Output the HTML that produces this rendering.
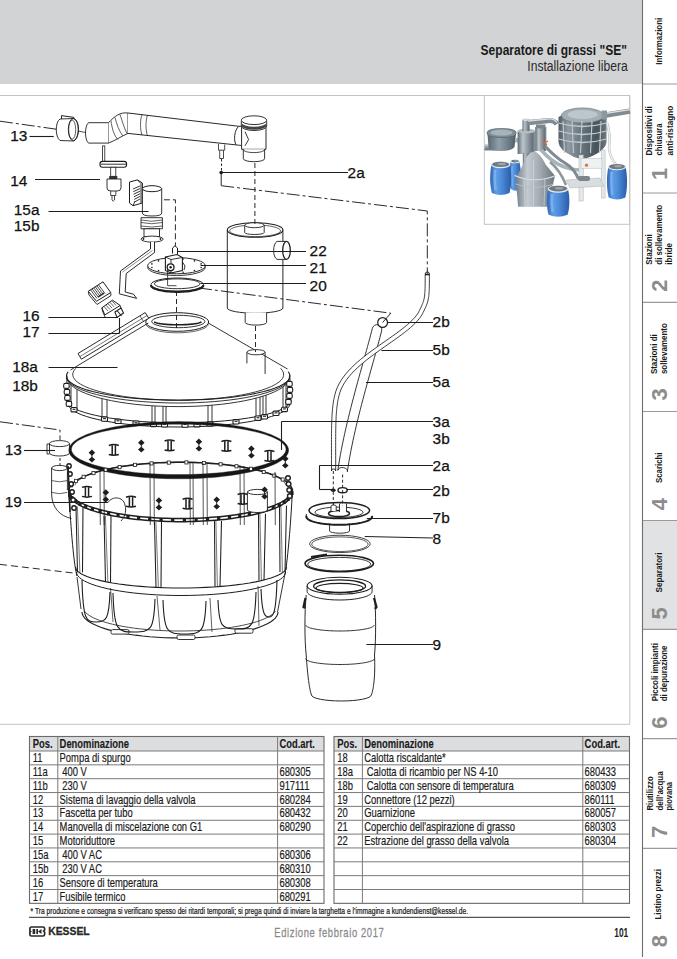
<!DOCTYPE html>
<html><head><meta charset="utf-8"><title>Separatore di grassi SE</title>
<style>html,body{margin:0;padding:0;background:#fff;overflow:hidden;width:677px;height:959px;}svg{display:block;font-family:"Liberation Sans",sans-serif;}</style></head>
<body><svg width="677" height="959" viewBox="0 0 677 959" font-family="Liberation Sans, sans-serif"><rect x="0" y="0" width="642.5" height="84" fill="#d1d3d4"/>
<text x="480.6" y="55" font-size="14.6" font-weight="bold" fill="#1a1a1a" text-anchor="start" textLength="146.3" lengthAdjust="spacingAndGlyphs" >Separatore di grassi "SE"</text>
<text x="627.8" y="71" font-size="13.8" font-weight="normal" fill="#2a2a2a" text-anchor="end" textLength="100.5" lengthAdjust="spacingAndGlyphs" >Installazione libera</text>
<rect x="643" y="520.5" width="34" height="108.8" fill="#e1e2e4"/>
<line x1="642.5" y1="0" x2="642.5" y2="957" stroke="#6d6d6d" stroke-width="1.1"/>
<line x1="643" y1="84" x2="677" y2="84" stroke="#9a9a9a" stroke-width="1.2"/>
<line x1="643" y1="193" x2="677" y2="193" stroke="#9a9a9a" stroke-width="1.2"/>
<line x1="643" y1="302.4" x2="677" y2="302.4" stroke="#9a9a9a" stroke-width="1.2"/>
<line x1="643" y1="411.5" x2="677" y2="411.5" stroke="#9a9a9a" stroke-width="1.2"/>
<line x1="643" y1="520.5" x2="677" y2="520.5" stroke="#9a9a9a" stroke-width="1.2"/>
<line x1="643" y1="629.3" x2="677" y2="629.3" stroke="#9a9a9a" stroke-width="1.2"/>
<line x1="643" y1="738.7" x2="677" y2="738.7" stroke="#9a9a9a" stroke-width="1.2"/>
<line x1="643" y1="848.4" x2="677" y2="848.4" stroke="#9a9a9a" stroke-width="1.2"/>
<text transform="translate(661.9,64.7) rotate(-90)" font-size="9.4" font-weight="bold" fill="#1a1a1a" text-anchor="start" textLength="46.9" lengthAdjust="spacingAndGlyphs">Informazioni</text>
<text transform="translate(651.6,155.4) rotate(-90)" font-size="9.4" font-weight="bold" fill="#1a1a1a" text-anchor="start" textLength="49.2" lengthAdjust="spacingAndGlyphs">Dispositivi di</text>
<text transform="translate(662.2,155.4) rotate(-90)" font-size="9.4" font-weight="bold" fill="#1a1a1a" text-anchor="start" textLength="31.9" lengthAdjust="spacingAndGlyphs">chiusura</text>
<text transform="translate(672.6,155.4) rotate(-90)" font-size="9.4" font-weight="bold" fill="#1a1a1a" text-anchor="start" textLength="49.6" lengthAdjust="spacingAndGlyphs">anti-ristagno</text>
<text transform="translate(652.4,264.7) rotate(-90)" font-size="9.4" font-weight="bold" fill="#1a1a1a" text-anchor="start" textLength="30.5" lengthAdjust="spacingAndGlyphs">Stazioni</text>
<text transform="translate(662.2,264.7) rotate(-90)" font-size="9.4" font-weight="bold" fill="#1a1a1a" text-anchor="start" textLength="59.9" lengthAdjust="spacingAndGlyphs">di sollevamento</text>
<text transform="translate(672.2,264.7) rotate(-90)" font-size="9.4" font-weight="bold" fill="#1a1a1a" text-anchor="start" textLength="21.7" lengthAdjust="spacingAndGlyphs">ibride</text>
<text transform="translate(657.4,374.1) rotate(-90)" font-size="9.4" font-weight="bold" fill="#1a1a1a" text-anchor="start" textLength="39.8" lengthAdjust="spacingAndGlyphs">Stazioni di</text>
<text transform="translate(667.2,374.1) rotate(-90)" font-size="9.4" font-weight="bold" fill="#1a1a1a" text-anchor="start" textLength="50.9" lengthAdjust="spacingAndGlyphs">sollevamento</text>
<text transform="translate(662,483.1) rotate(-90)" font-size="9.4" font-weight="bold" fill="#1a1a1a" text-anchor="start" textLength="30.6" lengthAdjust="spacingAndGlyphs">Scarichi</text>
<text transform="translate(662,592.5) rotate(-90)" font-size="9.4" font-weight="bold" fill="#1a1a1a" text-anchor="start" textLength="40" lengthAdjust="spacingAndGlyphs">Separatori</text>
<text transform="translate(657.6,701.25) rotate(-90)" font-size="9.4" font-weight="bold" fill="#1a1a1a" text-anchor="start" textLength="58.15" lengthAdjust="spacingAndGlyphs">Piccoli impianti</text>
<text transform="translate(667,701.25) rotate(-90)" font-size="9.4" font-weight="bold" fill="#1a1a1a" text-anchor="start" textLength="55.65" lengthAdjust="spacingAndGlyphs">di depurazione</text>
<text transform="translate(653.25,810.6) rotate(-90)" font-size="9.4" font-weight="bold" fill="#1a1a1a" text-anchor="start" textLength="34.35" lengthAdjust="spacingAndGlyphs">Riutilizzo</text>
<text transform="translate(662.6,810.6) rotate(-90)" font-size="9.4" font-weight="bold" fill="#1a1a1a" text-anchor="start" textLength="39.35" lengthAdjust="spacingAndGlyphs">dell&#8217;acqua</text>
<text transform="translate(672,810.6) rotate(-90)" font-size="9.4" font-weight="bold" fill="#1a1a1a" text-anchor="start" textLength="28.7" lengthAdjust="spacingAndGlyphs">piovana</text>
<text transform="translate(661.4,919.6) rotate(-90)" font-size="9.4" font-weight="bold" fill="#1a1a1a" text-anchor="start" textLength="50.6" lengthAdjust="spacingAndGlyphs">Listino prezzi</text>
<text transform="translate(666.8,173.8) rotate(-90)" font-size="22" font-weight="bold" fill="#8c8c8c" text-anchor="middle">1</text>
<text transform="translate(666.8,285.7) rotate(-90)" font-size="22" font-weight="bold" fill="#8c8c8c" text-anchor="middle">2</text>
<text transform="translate(666.8,394.25) rotate(-90)" font-size="22" font-weight="bold" fill="#8c8c8c" text-anchor="middle">3</text>
<text transform="translate(666.8,504.1) rotate(-90)" font-size="22" font-weight="bold" fill="#8c8c8c" text-anchor="middle">4</text>
<text transform="translate(666.8,613.4) rotate(-90)" font-size="22" font-weight="bold" fill="#8c8c8c" text-anchor="middle">5</text>
<text transform="translate(666.8,722.5) rotate(-90)" font-size="22" font-weight="bold" fill="#8c8c8c" text-anchor="middle">6</text>
<text transform="translate(666.8,831.9) rotate(-90)" font-size="22" font-weight="bold" fill="#8c8c8c" text-anchor="middle">7</text>
<text transform="translate(666.8,941.2) rotate(-90)" font-size="22" font-weight="bold" fill="#8c8c8c" text-anchor="middle">8</text>
<line x1="0" y1="95.5" x2="630" y2="95.5" stroke="#c4c4c4" stroke-width="1"/>
<line x1="629.8" y1="95.5" x2="629.8" y2="724.3" stroke="#c4c4c4" stroke-width="1"/>
<line x1="0" y1="724.3" x2="630" y2="724.3" stroke="#c4c4c4" stroke-width="1"/>
<rect x="484.3" y="95.5" width="145.3" height="128.8" fill="#fff" stroke="#c4c4c4" stroke-width="1"/>
<g><defs>
<linearGradient id="gm" x1="0" y1="0" x2="1" y2="0">
 <stop offset="0" stop-color="#5f6b73"/><stop offset="0.3" stop-color="#bcc5cb"/><stop offset="0.55" stop-color="#939ea5"/><stop offset="0.85" stop-color="#66727a"/><stop offset="1" stop-color="#8e999f"/></linearGradient>
<linearGradient id="gm2" x1="0" y1="0" x2="1" y2="0">
 <stop offset="0" stop-color="#596670"/><stop offset="0.4" stop-color="#8fa0ab"/><stop offset="0.75" stop-color="#6c7c87"/><stop offset="1" stop-color="#4f5c66"/></linearGradient>
<linearGradient id="gc" x1="0" y1="0" x2="1" y2="0">
 <stop offset="0" stop-color="#6f7b83"/><stop offset="0.3" stop-color="#c3cbd0"/><stop offset="0.6" stop-color="#a3adb3"/><stop offset="1" stop-color="#6a757c"/></linearGradient>
<linearGradient id="gb" x1="0" y1="0" x2="1" y2="0">
 <stop offset="0" stop-color="#2f66b6"/><stop offset="0.3" stop-color="#5e9de6"/><stop offset="0.55" stop-color="#4b8ad8"/><stop offset="1" stop-color="#2b5ca8"/></linearGradient>
<linearGradient id="gt" x1="0" y1="0" x2="1" y2="0">
 <stop offset="0" stop-color="#4f5b63"/><stop offset="0.2" stop-color="#8f9aa1"/><stop offset="0.45" stop-color="#6d7981"/><stop offset="0.8" stop-color="#47535b"/><stop offset="1" stop-color="#6f7a81"/></linearGradient>
<linearGradient id="gp" x1="0" y1="0" x2="0" y2="1">
 <stop offset="0" stop-color="#e3e8eb"/><stop offset="0.45" stop-color="#9ca7ad"/><stop offset="1" stop-color="#5f6a70"/></linearGradient>
</defs>
<path d="M510.7,161.3 C508.7,169.20000000000002 508.7,181.10000000000002 511.0,188.8 Q515.0,192.8 519.0,188.8 C521.3,181.10000000000002 521.3,169.20000000000002 519.3,161.3 Z" fill="url(#gb)"/>
<ellipse cx="515.0" cy="161.5" rx="4.9" ry="1.87" fill="#e6ecef"/>
<ellipse cx="515.0" cy="161.10000000000002" rx="3.7" ry="1.43" fill="#6d7880"/>
<ellipse cx="516.0" cy="160.8" rx="2.20" ry="0.66" fill="#9aa5ab"/>
<path d="M511.92,166.3 Q511.48,176.0 512.25,186.3" stroke="#8cbcf2" stroke-width="1.32" fill="none" opacity="0.7"/>
<path d="M491.59999999999997,164.6 C489.59999999999997,172.78 489.59999999999997,184.95999999999998 491.9,192.89999999999998 Q500.7,196.89999999999998 509.5,192.89999999999998 C511.8,184.95999999999998 511.8,172.78 509.8,164.6 Z" fill="url(#gb)"/>
<ellipse cx="500.7" cy="164.79999999999998" rx="9.700000000000001" ry="3.50" fill="#e6ecef"/>
<ellipse cx="500.7" cy="164.4" rx="8.5" ry="2.68" fill="#6d7880"/>
<ellipse cx="501.7" cy="164.1" rx="4.12" ry="1.24" fill="#9aa5ab"/>
<path d="M494.93199999999996,169.6 Q494.108,179.74 495.54999999999995,190.39999999999998" stroke="#8cbcf2" stroke-width="2.47" fill="none" opacity="0.7"/>
<rect x="484.5" y="143.6" width="9.5" height="6.8" fill="url(#gp)"/>
<path d="M487.5,134 L516,134 L514.5,147 Q512,151 500,151 Q489,151 488.5,147 Z" fill="url(#gm2)"/>
<path d="M487,133 Q487,128.5 501.5,128.5 Q516.2,128.5 516.2,133 Q516.2,137.5 501.5,137.5 Q487,137.5 487,133 Z" fill="#7e8e98" stroke="#55626b" stroke-width="0.7"/>
<ellipse cx="501.5" cy="132.6" rx="11" ry="3" fill="#a5b3bb"/>
<rect x="515" y="138" width="3.5" height="4.5" fill="#aab4b9"/>
<rect x="517.6" y="131" width="17.6" height="23" fill="url(#gm)"/>
<ellipse cx="526.4" cy="131" rx="8.8" ry="2.4" fill="#b3bcc1"/>
<rect x="522.8" y="153" width="7" height="17" fill="url(#gm)"/>
<rect x="522.5" y="119.5" width="7.3" height="11.5" fill="url(#gm)"/>
<ellipse cx="526.1" cy="119.8" rx="3.7" ry="1.4" fill="#d0d7db"/>
<path d="M528,122.6 L548,120.6 Q554,120 557,124" stroke="#808b91" stroke-width="5.2" fill="none"/>
<path d="M528,121 L548,119 Q554,118.4 557,122.4" stroke="#d5dcdf" stroke-width="1.4" fill="none"/>
<rect x="535.2" y="127" width="11.2" height="24" fill="url(#gm)"/>
<rect x="536" y="124.5" width="9.5" height="4" fill="#7c878d"/>
<path d="M542,140 L547,145 M544,143 L548,141" stroke="#c96b4e" stroke-width="1.3"/>
<path d="M558.5,117 Q582,103 606.5,117 L606.5,142 Q606,150 590,157 Q582,160 574,157 Q558.8,150 558.5,142 Z" fill="url(#gt)"/>
<ellipse cx="582.5" cy="115.5" rx="21" ry="7.6" fill="#a3adb3" stroke="#6a757b" stroke-width="0.7"/>
<ellipse cx="582.5" cy="114.5" rx="15" ry="4.6" fill="#bdc6cb"/>
<path d="M558.5,123 Q582.5,130 606.5,123" stroke="#c3ccd1" stroke-width="1.3" fill="none"/>
<path d="M558.5,131 Q582.5,138 606.5,131" stroke="#c3ccd1" stroke-width="1.3" fill="none"/>
<path d="M558.5,139 Q582.5,146 606.5,139" stroke="#c3ccd1" stroke-width="1.3" fill="none"/>
<line x1="563" y1="121" x2="564.5" y2="153" stroke="#c3ccd1" stroke-width="1.1"/>
<line x1="572" y1="121" x2="573.5" y2="153" stroke="#c3ccd1" stroke-width="1.1"/>
<line x1="582" y1="121" x2="580.5" y2="153" stroke="#c3ccd1" stroke-width="1.1"/>
<line x1="592" y1="121" x2="590.5" y2="153" stroke="#c3ccd1" stroke-width="1.1"/>
<line x1="601" y1="121" x2="599.5" y2="153" stroke="#c3ccd1" stroke-width="1.1"/>
<path d="M603,115.5 L630,111.2" stroke="#818c92" stroke-width="5.4" fill="none"/>
<path d="M603,113.8 L630,109.6" stroke="#d8dfe2" stroke-width="1.4" fill="none"/>
<rect x="601.5" y="110.5" width="5.5" height="9" fill="#8d989e"/>
<path d="M541,150 Q552,162 562,166 Q572,170 580,170" stroke="#aab3b8" stroke-width="3.6" fill="none"/>
<path d="M545,146 Q556,158 565,163 Q574,168 579,180" stroke="#7f898f" stroke-width="3" fill="none"/>
<path d="M550,162 Q560,170 566,185" stroke="#8d979c" stroke-width="2.6" fill="none"/>
<path d="M533.6,151.4 Q540,152 546,165 Q552,172 555,176 L553,184 Q550,190 547,206.7 L518,206.7 Q517,190 515.5,184 L516.6,175.5 Q521,170 524,162 Q528,152 533.6,151.4 Z" fill="url(#gc)"/>
<path d="M514.5,175.5 Q535,184 556,175.5" stroke="#d6dde1" stroke-width="1.2" fill="none"/>
<path d="M515.5,184 Q535,191 554,184" stroke="#b5bec3" stroke-width="0.9" fill="none"/>
<path d="M533.5,160 L533.5,206 M524,178 L525,206 M545,178 L544,206" stroke="#d0d7db" stroke-width="0.7"/>
<rect x="579" y="155" width="4.2" height="46" fill="#e4e8ea" stroke="#a9b0b4" stroke-width="0.5"/>
<rect x="601.5" y="150" width="3.6" height="48" fill="#e4e8ea" stroke="#a9b0b4" stroke-width="0.5"/>
<rect x="581" y="158.5" width="21" height="9.7" fill="#eef1f2" stroke="#b2b9bd" stroke-width="0.5"/>
<circle cx="586.5" cy="165.2" r="1.6" fill="#d9713f"/>
<path d="M566,180 L600,178 L604,186 L570,188 Z" fill="#d8dde0" stroke="#aab1b5" stroke-width="0.5"/>
<rect x="578" y="176" width="12" height="5" rx="2" fill="#7c868b"/>
<path d="M607,123 Q611,135 609,148 Q610,158 617,166" stroke="#a5adb1" stroke-width="2.4" fill="none"/>
<path d="M607,123 Q611,135 609,148 Q610,158 617,166" stroke="#eef1f3" stroke-width="1.6" fill="none"/>
<path d="M608.4000000000001,166.8 C606.4000000000001,175.82000000000002 606.4000000000001,188.84 608.7,197.5 Q617.0,201.5 625.3000000000001,197.5 C627.6,188.84 627.6,175.82000000000002 625.6,166.8 Z" fill="url(#gb)"/>
<ellipse cx="617.0" cy="167.0" rx="9.200000000000001" ry="3.33" fill="#e6ecef"/>
<ellipse cx="617.0" cy="166.60000000000002" rx="8.0" ry="2.55" fill="#6d7880"/>
<ellipse cx="618.0" cy="166.3" rx="3.92" ry="1.18" fill="#9aa5ab"/>
<path d="M611.5120000000001,171.8 Q610.7280000000001,183.26000000000002 612.1,195.0" stroke="#8cbcf2" stroke-width="2.35" fill="none" opacity="0.7"/>
<path d="M548.3000000000001,188.8 C546.3000000000001,196.175 546.3000000000001,207.55 548.6,214.8 Q558.1,218.8 567.6,214.8 C569.9,207.55 569.9,196.175 567.9,188.8 Z" fill="url(#gb)"/>
<ellipse cx="558.1" cy="189.0" rx="10.4" ry="3.74" fill="#e6ecef"/>
<ellipse cx="558.1" cy="188.60000000000002" rx="9.2" ry="2.86" fill="#6d7880"/>
<ellipse cx="559.1" cy="188.3" rx="4.40" ry="1.32" fill="#9aa5ab"/>
<path d="M551.94,193.8 Q551.0600000000001,202.675 552.6,212.3" stroke="#8cbcf2" stroke-width="2.64" fill="none" opacity="0.7"/></g>
<rect x="29.5" y="736.5" width="294.5" height="14.5" fill="#dcdddf"/>
<rect x="29.5" y="736.5" width="294.5" height="166.85000000000002" fill="none" stroke="#6a6a6a" stroke-width="1.1"/>
<line x1="29.5" y1="751.0" x2="324" y2="751.0" stroke="#7a7a7a" stroke-width="1"/>
<line x1="29.5" y1="764.85" x2="324" y2="764.85" stroke="#7a7a7a" stroke-width="1"/>
<line x1="29.5" y1="778.7" x2="324" y2="778.7" stroke="#7a7a7a" stroke-width="1"/>
<line x1="29.5" y1="792.55" x2="324" y2="792.55" stroke="#7a7a7a" stroke-width="1"/>
<line x1="29.5" y1="806.4" x2="324" y2="806.4" stroke="#7a7a7a" stroke-width="1"/>
<line x1="29.5" y1="820.25" x2="324" y2="820.25" stroke="#7a7a7a" stroke-width="1"/>
<line x1="29.5" y1="834.1" x2="324" y2="834.1" stroke="#7a7a7a" stroke-width="1"/>
<line x1="29.5" y1="847.95" x2="324" y2="847.95" stroke="#7a7a7a" stroke-width="1"/>
<line x1="29.5" y1="861.8" x2="324" y2="861.8" stroke="#7a7a7a" stroke-width="1"/>
<line x1="29.5" y1="875.65" x2="324" y2="875.65" stroke="#7a7a7a" stroke-width="1"/>
<line x1="29.5" y1="889.5" x2="324" y2="889.5" stroke="#7a7a7a" stroke-width="1"/>
<line x1="57.8" y1="736.5" x2="57.8" y2="903.35" stroke="#7a7a7a" stroke-width="1"/>
<line x1="277.6" y1="736.5" x2="277.6" y2="903.35" stroke="#7a7a7a" stroke-width="1"/>
<text transform="translate(32.7,748.3) scale(0.785,1)" font-size="12.0" font-weight="bold" fill="#1a1a1a" stroke="#1a1a1a" stroke-width="0.1" text-anchor="start">Pos.</text>
<text transform="translate(59.599999999999994,748.3) scale(0.785,1)" font-size="12.0" font-weight="bold" fill="#1a1a1a" stroke="#1a1a1a" stroke-width="0.1" text-anchor="start">Denominazione</text>
<text transform="translate(279.40000000000003,748.3) scale(0.785,1)" font-size="12.0" font-weight="bold" fill="#1a1a1a" stroke="#1a1a1a" stroke-width="0.1" text-anchor="start">Cod.art.</text>
<text transform="translate(32.7,762.0) scale(0.785,1)" font-size="12.0" font-weight="normal" fill="#1a1a1a" stroke="#1a1a1a" stroke-width="0.18" text-anchor="start">11</text>
<text transform="translate(59.599999999999994,762.0) scale(0.785,1)" font-size="12.0" font-weight="normal" fill="#1a1a1a" stroke="#1a1a1a" stroke-width="0.18" text-anchor="start">Pompa di spurgo</text>
<text transform="translate(32.7,775.85) scale(0.785,1)" font-size="12.0" font-weight="normal" fill="#1a1a1a" stroke="#1a1a1a" stroke-width="0.18" text-anchor="start">11a</text>
<text transform="translate(59.599999999999994,775.85) scale(0.785,1)" font-size="12.0" font-weight="normal" fill="#1a1a1a" stroke="#1a1a1a" stroke-width="0.18" text-anchor="start">&#160;400 V</text>
<text transform="translate(279.40000000000003,775.85) scale(0.785,1)" font-size="12.0" font-weight="normal" fill="#1a1a1a" stroke="#1a1a1a" stroke-width="0.18" text-anchor="start">680305</text>
<text transform="translate(32.7,789.7) scale(0.785,1)" font-size="12.0" font-weight="normal" fill="#1a1a1a" stroke="#1a1a1a" stroke-width="0.18" text-anchor="start">11b</text>
<text transform="translate(59.599999999999994,789.7) scale(0.785,1)" font-size="12.0" font-weight="normal" fill="#1a1a1a" stroke="#1a1a1a" stroke-width="0.18" text-anchor="start">&#160;230 V</text>
<text transform="translate(279.40000000000003,789.7) scale(0.785,1)" font-size="12.0" font-weight="normal" fill="#1a1a1a" stroke="#1a1a1a" stroke-width="0.18" text-anchor="start">917111</text>
<text transform="translate(32.7,803.55) scale(0.785,1)" font-size="12.0" font-weight="normal" fill="#1a1a1a" stroke="#1a1a1a" stroke-width="0.18" text-anchor="start">12</text>
<text transform="translate(59.599999999999994,803.55) scale(0.785,1)" font-size="12.0" font-weight="normal" fill="#1a1a1a" stroke="#1a1a1a" stroke-width="0.18" text-anchor="start">Sistema di lavaggio della valvola</text>
<text transform="translate(279.40000000000003,803.55) scale(0.785,1)" font-size="12.0" font-weight="normal" fill="#1a1a1a" stroke="#1a1a1a" stroke-width="0.18" text-anchor="start">680284</text>
<text transform="translate(32.7,817.4) scale(0.785,1)" font-size="12.0" font-weight="normal" fill="#1a1a1a" stroke="#1a1a1a" stroke-width="0.18" text-anchor="start">13</text>
<text transform="translate(59.599999999999994,817.4) scale(0.785,1)" font-size="12.0" font-weight="normal" fill="#1a1a1a" stroke="#1a1a1a" stroke-width="0.18" text-anchor="start">Fascetta per tubo</text>
<text transform="translate(279.40000000000003,817.4) scale(0.785,1)" font-size="12.0" font-weight="normal" fill="#1a1a1a" stroke="#1a1a1a" stroke-width="0.18" text-anchor="start">680432</text>
<text transform="translate(32.7,831.25) scale(0.785,1)" font-size="12.0" font-weight="normal" fill="#1a1a1a" stroke="#1a1a1a" stroke-width="0.18" text-anchor="start">14</text>
<text transform="translate(59.599999999999994,831.25) scale(0.785,1)" font-size="12.0" font-weight="normal" fill="#1a1a1a" stroke="#1a1a1a" stroke-width="0.18" text-anchor="start">Manovella di miscelazione con G1</text>
<text transform="translate(279.40000000000003,831.25) scale(0.785,1)" font-size="12.0" font-weight="normal" fill="#1a1a1a" stroke="#1a1a1a" stroke-width="0.18" text-anchor="start">680290</text>
<text transform="translate(32.7,845.1) scale(0.785,1)" font-size="12.0" font-weight="normal" fill="#1a1a1a" stroke="#1a1a1a" stroke-width="0.18" text-anchor="start">15</text>
<text transform="translate(59.599999999999994,845.1) scale(0.785,1)" font-size="12.0" font-weight="normal" fill="#1a1a1a" stroke="#1a1a1a" stroke-width="0.18" text-anchor="start">Motoriduttore</text>
<text transform="translate(32.7,858.95) scale(0.785,1)" font-size="12.0" font-weight="normal" fill="#1a1a1a" stroke="#1a1a1a" stroke-width="0.18" text-anchor="start">15a</text>
<text transform="translate(59.599999999999994,858.95) scale(0.785,1)" font-size="12.0" font-weight="normal" fill="#1a1a1a" stroke="#1a1a1a" stroke-width="0.18" text-anchor="start">&#160;400 V AC</text>
<text transform="translate(279.40000000000003,858.95) scale(0.785,1)" font-size="12.0" font-weight="normal" fill="#1a1a1a" stroke="#1a1a1a" stroke-width="0.18" text-anchor="start">680306</text>
<text transform="translate(32.7,872.8) scale(0.785,1)" font-size="12.0" font-weight="normal" fill="#1a1a1a" stroke="#1a1a1a" stroke-width="0.18" text-anchor="start">15b</text>
<text transform="translate(59.599999999999994,872.8) scale(0.785,1)" font-size="12.0" font-weight="normal" fill="#1a1a1a" stroke="#1a1a1a" stroke-width="0.18" text-anchor="start">&#160;230 V AC</text>
<text transform="translate(279.40000000000003,872.8) scale(0.785,1)" font-size="12.0" font-weight="normal" fill="#1a1a1a" stroke="#1a1a1a" stroke-width="0.18" text-anchor="start">680310</text>
<text transform="translate(32.7,886.65) scale(0.785,1)" font-size="12.0" font-weight="normal" fill="#1a1a1a" stroke="#1a1a1a" stroke-width="0.18" text-anchor="start">16</text>
<text transform="translate(59.599999999999994,886.65) scale(0.785,1)" font-size="12.0" font-weight="normal" fill="#1a1a1a" stroke="#1a1a1a" stroke-width="0.18" text-anchor="start">Sensore di temperatura</text>
<text transform="translate(279.40000000000003,886.65) scale(0.785,1)" font-size="12.0" font-weight="normal" fill="#1a1a1a" stroke="#1a1a1a" stroke-width="0.18" text-anchor="start">680308</text>
<text transform="translate(32.7,900.5) scale(0.785,1)" font-size="12.0" font-weight="normal" fill="#1a1a1a" stroke="#1a1a1a" stroke-width="0.18" text-anchor="start">17</text>
<text transform="translate(59.599999999999994,900.5) scale(0.785,1)" font-size="12.0" font-weight="normal" fill="#1a1a1a" stroke="#1a1a1a" stroke-width="0.18" text-anchor="start">Fusibile termico</text>
<text transform="translate(279.40000000000003,900.5) scale(0.785,1)" font-size="12.0" font-weight="normal" fill="#1a1a1a" stroke="#1a1a1a" stroke-width="0.18" text-anchor="start">680291</text>
<rect x="334" y="736.5" width="295.5" height="14.5" fill="#dcdddf"/>
<rect x="334" y="736.5" width="295.5" height="166.85000000000002" fill="none" stroke="#6a6a6a" stroke-width="1.1"/>
<line x1="334" y1="751.0" x2="629.5" y2="751.0" stroke="#7a7a7a" stroke-width="1"/>
<line x1="334" y1="764.85" x2="629.5" y2="764.85" stroke="#7a7a7a" stroke-width="1"/>
<line x1="334" y1="778.7" x2="629.5" y2="778.7" stroke="#7a7a7a" stroke-width="1"/>
<line x1="334" y1="792.55" x2="629.5" y2="792.55" stroke="#7a7a7a" stroke-width="1"/>
<line x1="334" y1="806.4" x2="629.5" y2="806.4" stroke="#7a7a7a" stroke-width="1"/>
<line x1="334" y1="820.25" x2="629.5" y2="820.25" stroke="#7a7a7a" stroke-width="1"/>
<line x1="334" y1="834.1" x2="629.5" y2="834.1" stroke="#7a7a7a" stroke-width="1"/>
<line x1="334" y1="847.95" x2="629.5" y2="847.95" stroke="#7a7a7a" stroke-width="1"/>
<line x1="334" y1="861.8" x2="629.5" y2="861.8" stroke="#7a7a7a" stroke-width="1"/>
<line x1="334" y1="875.65" x2="629.5" y2="875.65" stroke="#7a7a7a" stroke-width="1"/>
<line x1="334" y1="889.5" x2="629.5" y2="889.5" stroke="#7a7a7a" stroke-width="1"/>
<line x1="362.4" y1="736.5" x2="362.4" y2="903.35" stroke="#7a7a7a" stroke-width="1"/>
<line x1="582.8" y1="736.5" x2="582.8" y2="903.35" stroke="#7a7a7a" stroke-width="1"/>
<text transform="translate(337.2,748.3) scale(0.785,1)" font-size="12.0" font-weight="bold" fill="#1a1a1a" stroke="#1a1a1a" stroke-width="0.1" text-anchor="start">Pos.</text>
<text transform="translate(364.2,748.3) scale(0.785,1)" font-size="12.0" font-weight="bold" fill="#1a1a1a" stroke="#1a1a1a" stroke-width="0.1" text-anchor="start">Denominazione</text>
<text transform="translate(584.5999999999999,748.3) scale(0.785,1)" font-size="12.0" font-weight="bold" fill="#1a1a1a" stroke="#1a1a1a" stroke-width="0.1" text-anchor="start">Cod.art.</text>
<text transform="translate(337.2,762.0) scale(0.785,1)" font-size="12.0" font-weight="normal" fill="#1a1a1a" stroke="#1a1a1a" stroke-width="0.18" text-anchor="start">18</text>
<text transform="translate(364.2,762.0) scale(0.785,1)" font-size="12.0" font-weight="normal" fill="#1a1a1a" stroke="#1a1a1a" stroke-width="0.18" text-anchor="start">Calotta riscaldante*</text>
<text transform="translate(337.2,775.85) scale(0.785,1)" font-size="12.0" font-weight="normal" fill="#1a1a1a" stroke="#1a1a1a" stroke-width="0.18" text-anchor="start">18a</text>
<text transform="translate(364.2,775.85) scale(0.785,1)" font-size="12.0" font-weight="normal" fill="#1a1a1a" stroke="#1a1a1a" stroke-width="0.18" text-anchor="start">&#160;Calotta di ricambio per NS 4-10</text>
<text transform="translate(584.5999999999999,775.85) scale(0.785,1)" font-size="12.0" font-weight="normal" fill="#1a1a1a" stroke="#1a1a1a" stroke-width="0.18" text-anchor="start">680433</text>
<text transform="translate(337.2,789.7) scale(0.785,1)" font-size="12.0" font-weight="normal" fill="#1a1a1a" stroke="#1a1a1a" stroke-width="0.18" text-anchor="start">18b</text>
<text transform="translate(364.2,789.7) scale(0.785,1)" font-size="12.0" font-weight="normal" fill="#1a1a1a" stroke="#1a1a1a" stroke-width="0.18" text-anchor="start">&#160;Calotta con sensore di temperatura</text>
<text transform="translate(584.5999999999999,789.7) scale(0.785,1)" font-size="12.0" font-weight="normal" fill="#1a1a1a" stroke="#1a1a1a" stroke-width="0.18" text-anchor="start">680309</text>
<text transform="translate(337.2,803.55) scale(0.785,1)" font-size="12.0" font-weight="normal" fill="#1a1a1a" stroke="#1a1a1a" stroke-width="0.18" text-anchor="start">19</text>
<text transform="translate(364.2,803.55) scale(0.785,1)" font-size="12.0" font-weight="normal" fill="#1a1a1a" stroke="#1a1a1a" stroke-width="0.18" text-anchor="start">Connettore (12 pezzi)</text>
<text transform="translate(584.5999999999999,803.55) scale(0.785,1)" font-size="12.0" font-weight="normal" fill="#1a1a1a" stroke="#1a1a1a" stroke-width="0.18" text-anchor="start">860111</text>
<text transform="translate(337.2,817.4) scale(0.785,1)" font-size="12.0" font-weight="normal" fill="#1a1a1a" stroke="#1a1a1a" stroke-width="0.18" text-anchor="start">20</text>
<text transform="translate(364.2,817.4) scale(0.785,1)" font-size="12.0" font-weight="normal" fill="#1a1a1a" stroke="#1a1a1a" stroke-width="0.18" text-anchor="start">Guarnizione</text>
<text transform="translate(584.5999999999999,817.4) scale(0.785,1)" font-size="12.0" font-weight="normal" fill="#1a1a1a" stroke="#1a1a1a" stroke-width="0.18" text-anchor="start">680057</text>
<text transform="translate(337.2,831.25) scale(0.785,1)" font-size="12.0" font-weight="normal" fill="#1a1a1a" stroke="#1a1a1a" stroke-width="0.18" text-anchor="start">21</text>
<text transform="translate(364.2,831.25) scale(0.785,1)" font-size="12.0" font-weight="normal" fill="#1a1a1a" stroke="#1a1a1a" stroke-width="0.18" text-anchor="start">Coperchio dell'aspirazione di grasso</text>
<text transform="translate(584.5999999999999,831.25) scale(0.785,1)" font-size="12.0" font-weight="normal" fill="#1a1a1a" stroke="#1a1a1a" stroke-width="0.18" text-anchor="start">680303</text>
<text transform="translate(337.2,845.1) scale(0.785,1)" font-size="12.0" font-weight="normal" fill="#1a1a1a" stroke="#1a1a1a" stroke-width="0.18" text-anchor="start">22</text>
<text transform="translate(364.2,845.1) scale(0.785,1)" font-size="12.0" font-weight="normal" fill="#1a1a1a" stroke="#1a1a1a" stroke-width="0.18" text-anchor="start">Estrazione del grasso della valvola</text>
<text transform="translate(584.5999999999999,845.1) scale(0.785,1)" font-size="12.0" font-weight="normal" fill="#1a1a1a" stroke="#1a1a1a" stroke-width="0.18" text-anchor="start">680304</text>
<text x="30.6" y="914" font-size="8.3" font-weight="normal" fill="#1a1a1a" text-anchor="start" textLength="437.5" lengthAdjust="spacingAndGlyphs" stroke="#1a1a1a" stroke-width="0.22">* Tra produzione e consegna si verificano spesso dei ritardi temporali; si prega quindi di inviare la targhetta e l&#8217;immagine a kundendienst@kessel.de.</text>
<line x1="29" y1="917.4" x2="630" y2="917.4" stroke="#555" stroke-width="1.4"/>
<text transform="translate(274.3,936.5) scale(0.76,1)" font-size="12.4" letter-spacing="0.83" fill="#8a8a8a" stroke="#8a8a8a" stroke-width="0.25">Edizione febbraio 2017</text>
<text x="628.3" y="936.5" font-size="12.3" font-weight="bold" fill="#1a1a1a" text-anchor="end" textLength="14" lengthAdjust="spacingAndGlyphs" >101</text>
<path d="M31.5,927 L43,927 Q44.6,927 44.6,928.6 L44.6,930 L43.6,931 L44.6,932 L44.6,934.4 Q44.6,936 43,936 L31.5,936 Q29.9,936 29.9,934.4 L29.9,932.2 L30.6,931.5 L29.9,930.8 L29.9,928.6 Q29.9,927 31.5,927 Z" fill="none" stroke="#2a2a2a" stroke-width="1.7"/>
<rect x="32.6" y="929" width="2.6" height="5" fill="#2a2a2a"/><rect x="36.3" y="929" width="1.7" height="5" fill="#2a2a2a"/><path d="M38,931.5 L41.5,929 L41.5,934 Z" fill="#2a2a2a"/>
<text x="48.2" y="935.3" font-size="10.6" font-weight="bold" fill="#2a2a2a" text-anchor="start" textLength="41.5" lengthAdjust="spacingAndGlyphs" stroke="#2a2a2a" stroke-width="0.3">KESSEL</text>
<g><ellipse cx="177.2" cy="322" rx="31.5" ry="9.3" stroke="#1e1e1e" stroke-width="1.0" fill="none" />
<ellipse cx="178.3" cy="321.5" rx="26.6" ry="6.2" stroke="#1e1e1e" stroke-width="0.9" fill="none" />
<path d="M201.44,321.83 L201.09,322.07 L200.63,322.31 L200.05,322.55 L199.37,322.78 L198.58,323.00 L197.70,323.21 L196.71,323.42 L195.64,323.61 L194.47,323.79 L193.23,323.96 L191.91,324.11 L190.52,324.25 L189.07,324.38 L187.56,324.49 L186.01,324.58 L184.42,324.66 L182.79,324.72 L181.14,324.76 L179.47,324.79 L177.80,324.80 L176.13,324.79 L174.46,324.76 L172.81,324.72 L171.18,324.66 L169.59,324.58 L168.04,324.49 L166.53,324.38 L165.08,324.25 L163.69,324.11 L162.37,323.96 L161.13,323.79 L159.96,323.61 L158.89,323.42 L157.90,323.21 L157.02,323.00 L156.23,322.78 L155.55,322.55 L154.97,322.31 L154.51,322.07 L154.16,321.83" stroke="#1e1e1e" stroke-width="1.6" fill="none" />
<path d="M208.38,324.40 L208.09,325.08 L207.64,325.75 L207.01,326.40 L206.22,327.05 L205.27,327.67 L204.17,328.27 L202.92,328.84 L201.52,329.39 L200.00,329.90 L198.35,330.38 L196.58,330.82 L194.70,331.23 L192.73,331.59 L190.67,331.90 L188.54,332.17 L186.35,332.40 L184.11,332.57 L181.83,332.70 L179.52,332.77 L177.20,332.80 L174.88,332.77 L172.57,332.70 L170.29,332.57 L168.05,332.40 L165.86,332.17 L163.73,331.90 L161.67,331.59 L159.70,331.23 L157.82,330.82 L156.05,330.38 L154.40,329.90 L152.88,329.39 L151.48,328.84 L150.23,328.27 L149.13,327.67 L148.18,327.05 L147.39,326.40 L146.76,325.75 L146.31,325.08 L146.02,324.40" stroke="#1e1e1e" stroke-width="0.7" fill="none" />
<path d="M148.3,323 L70.5,370" stroke="#1e1e1e" stroke-width="0.9" fill="none" />
<path d="M208.3,323 L287.5,369" stroke="#1e1e1e" stroke-width="0.9" fill="none" />
<path d="M288.30,371.80 L289.57,373.89 L290.00,376.00 L289.57,378.11 L288.30,380.20 L286.19,382.26 L283.26,384.28 L279.53,386.23 L275.02,388.10 L269.78,389.88 L263.84,391.56 L257.25,393.11 L250.06,394.54 L242.33,395.82 L234.10,396.96 L225.45,397.93 L216.44,398.74 L207.14,399.38 L197.61,399.83 L187.94,400.11 L178.20,400.20 L168.46,400.11 L158.79,399.83 L149.26,399.38 L139.96,398.74 L130.95,397.93 L122.30,396.96 L114.07,395.82 L106.34,394.54 L99.15,393.11 L92.56,391.56 L86.62,389.88 L81.38,388.10 L76.87,386.23 L73.14,384.28 L70.21,382.26 L68.10,380.20 L66.83,378.11 L66.40,376.00 L66.83,373.89 L68.10,371.80" stroke="#1e1e1e" stroke-width="1.05" fill="none" />
<path d="M280.57,368.31 L282.46,370.58 L283.49,372.89 L283.66,375.21 L282.96,377.53 L281.39,379.82 L278.98,382.07 L275.74,384.26 L271.69,386.36 L266.88,388.37 L261.34,390.26 L255.11,392.02 L248.24,393.64 L240.81,395.11 L232.85,396.40 L224.45,397.51 L215.66,398.43 L206.57,399.16 L197.24,399.68 L187.76,399.99 L178.20,400.10 L168.64,399.99 L159.16,399.68 L149.83,399.16 L140.74,398.43 L131.95,397.51 L123.55,396.40 L115.59,395.11 L108.16,393.64 L101.29,392.02 L95.06,390.26 L89.52,388.37 L84.71,386.36 L80.66,384.26 L77.42,382.07 L75.01,379.82 L73.44,377.53 L72.74,375.21 L72.91,372.89 L73.94,370.58 L75.83,368.31" stroke="#1e1e1e" stroke-width="0.85" fill="none" />
<path d="M289.53,374.65 L289.79,376.82 L289.30,378.99 L288.07,381.15 L286.10,383.27 L283.40,385.35 L279.99,387.36 L275.90,389.31 L271.15,391.16 L265.78,392.92 L259.82,394.57 L253.31,396.10 L246.29,397.50 L238.82,398.75 L230.94,399.85 L222.70,400.80 L214.16,401.59 L205.39,402.20 L196.43,402.64 L187.34,402.91 L178.20,403.00 L169.06,402.91 L159.97,402.64 L151.01,402.20 L142.24,401.59 L133.70,400.80 L125.46,399.85 L117.58,398.75 L110.11,397.50 L103.09,396.10 L96.58,394.57 L90.62,392.92 L85.25,391.16 L80.50,389.31 L76.41,387.36 L73.00,385.35 L70.30,383.27 L68.33,381.15 L67.10,378.99 L66.61,376.82 L66.87,374.65" stroke="#1e1e1e" stroke-width="0.9" fill="none" />
<path d="M289.43,375.97 L289.39,378.34 L288.62,380.71 L287.15,383.05 L284.97,385.36 L282.11,387.61 L278.57,389.79 L274.39,391.89 L269.59,393.89 L264.21,395.79 L258.26,397.56 L251.80,399.20 L244.87,400.70 L237.51,402.05 L229.76,403.23 L221.69,404.25 L213.33,405.09 L204.75,405.75 L195.99,406.22 L187.13,406.50 L178.20,406.60 L169.27,406.50 L160.41,406.22 L151.65,405.75 L143.07,405.09 L134.71,404.25 L126.64,403.23 L118.89,402.05 L111.53,400.70 L104.60,399.20 L98.14,397.56 L92.19,395.79 L86.81,393.89 L82.01,391.89 L77.83,389.79 L74.29,387.61 L71.43,385.36 L69.25,383.05 L67.78,380.71 L67.01,378.34 L66.97,375.97" stroke="#1e1e1e" stroke-width="0.9" fill="none" />
<path d="M290.39,398.17 L290.98,400.03 L290.78,401.90 L289.80,403.76 L288.04,405.59 L285.52,407.39 L282.25,409.14 L278.25,410.83 L273.56,412.45 L268.21,413.98 L262.23,415.42 L255.67,416.76 L248.57,417.98 L240.98,419.07 L232.96,420.04 L224.55,420.87 L215.83,421.56 L206.85,422.10 L197.68,422.49 L188.37,422.72 L179.00,422.80 L169.63,422.72 L160.32,422.49 L151.15,422.10 L142.17,421.56 L133.45,420.87 L125.04,420.04 L117.02,419.07 L109.43,417.98 L102.33,416.76 L95.77,415.42 L89.79,413.98 L84.44,412.45 L79.75,410.83 L75.75,409.14 L72.48,407.39 L69.96,405.59 L68.20,403.76 L67.22,401.90 L67.02,400.03 L67.61,398.17" stroke="#1e1e1e" stroke-width="1.0" fill="none" />
<path d="M289.73,401.86 L289.99,403.79 L289.51,405.71 L288.28,407.62 L286.32,409.50 L283.63,411.34 L280.25,413.13 L276.18,414.86 L271.45,416.50 L266.11,418.06 L260.18,419.53 L253.70,420.88 L246.73,422.12 L239.29,423.23 L231.45,424.21 L223.26,425.05 L214.77,425.75 L206.04,426.29 L197.13,426.68 L188.10,426.92 L179.00,427.00 L169.90,426.92 L160.87,426.68 L151.96,426.29 L143.23,425.75 L134.74,425.05 L126.55,424.21 L118.71,423.23 L111.27,422.12 L104.30,420.88 L97.82,419.53 L91.89,418.06 L86.55,416.50 L81.82,414.86 L77.75,413.13 L74.37,411.34 L71.68,409.50 L69.72,407.62 L68.49,405.71 L68.01,403.79 L68.27,401.86" stroke="#1e1e1e" stroke-width="1.0" fill="none" />
<path d="M66.6,378 L68.6,404" stroke="#1e1e1e" stroke-width="0.9" fill="none" />
<path d="M290,378 L289.5,400" stroke="#1e1e1e" stroke-width="0.9" fill="none" />
<line x1="71" y1="384.96002067465565" x2="71" y2="406.40647236650835" stroke="#1e1e1e" stroke-width="0.9"/>
<line x1="77" y1="389.32073738698995" x2="77" y2="409.71072311388264" stroke="#1e1e1e" stroke-width="0.9"/>
<line x1="102" y1="398.5749968504853" x2="102" y2="416.6939116163298" stroke="#1e1e1e" stroke-width="0.9"/>
<line x1="107" y1="399.75098307874924" x2="107" y2="417.5814898623735" stroke="#1e1e1e" stroke-width="0.9"/>
<line x1="152" y1="405.7681991069595" x2="152" y2="422.1423144785515" stroke="#1e1e1e" stroke-width="0.9"/>
<line x1="155" y1="405.94980502302974" x2="155" y2="422.2819938275182" stroke="#1e1e1e" stroke-width="0.9"/>
<line x1="163" y1="406.32266935865476" x2="163" y2="422.57127600502054" stroke="#1e1e1e" stroke-width="0.9"/>
<line x1="166" y1="406.421638344718" x2="166" y2="422.6492713744062" stroke="#1e1e1e" stroke-width="0.9"/>
<line x1="208" y1="405.5192997586112" x2="208" y2="422.03949132878506" stroke="#1e1e1e" stroke-width="0.9"/>
<line x1="212" y1="405.20207766159564" x2="212" y2="421.8100459977752" stroke="#1e1e1e" stroke-width="0.9"/>
<line x1="256" y1="398.16726342830276" x2="256" y2="416.6939116163298" stroke="#1e1e1e" stroke-width="0.9"/>
<line x1="260" y1="397.0723717443997" x2="260" y2="415.9009085412739" stroke="#1e1e1e" stroke-width="0.9"/>
<line x1="263" y1="396.17159652659853" x2="263" y2="415.2500635591851" stroke="#1e1e1e" stroke-width="0.9"/>
<line x1="266" y1="395.19139934919747" x2="266" y2="414.54375947975666" stroke="#1e1e1e" stroke-width="0.9"/>
<line x1="283" y1="386.9673706524159" x2="283" y2="408.7767285018827" stroke="#1e1e1e" stroke-width="0.9"/>
<line x1="286" y1="384.36464398952995" x2="286" y2="407.0886115000601" stroke="#1e1e1e" stroke-width="0.9"/>
<rect x="71.0" y="407.5" width="6" height="4.4" rx="1" fill="#fff" stroke="#1e1e1e" stroke-width="1.1"/>
<line x1="72.5" y1="409.23817589387914" x2="75.5" y2="409.23817589387914" stroke="#1e1e1e" stroke-width="1.1"/>
<rect x="101.5" y="416.9" width="6" height="4.4" rx="1" fill="#fff" stroke="#1e1e1e" stroke-width="1.1"/>
<line x1="103.0" y1="418.61237555138985" x2="106.0" y2="418.61237555138985" stroke="#1e1e1e" stroke-width="1.1"/>
<rect x="115.0" y="419.1" width="6" height="4.4" rx="1" fill="#fff" stroke="#1e1e1e" stroke-width="1.1"/>
<line x1="116.5" y1="420.75276932460713" x2="119.5" y2="420.75276932460713" stroke="#1e1e1e" stroke-width="1.1"/>
<rect x="133.0" y="421.0" width="6" height="4.4" rx="1" fill="#fff" stroke="#1e1e1e" stroke-width="1.1"/>
<line x1="134.5" y1="422.7208363528322" x2="137.5" y2="422.7208363528322" stroke="#1e1e1e" stroke-width="1.1"/>
<rect x="150.5" y="422.2" width="6" height="4.4" rx="1" fill="#fff" stroke="#1e1e1e" stroke-width="1.1"/>
<line x1="152.0" y1="423.8904322534023" x2="155.0" y2="423.8904322534023" stroke="#1e1e1e" stroke-width="1.1"/>
<rect x="161.5" y="422.6" width="6" height="4.4" rx="1" fill="#fff" stroke="#1e1e1e" stroke-width="1.1"/>
<line x1="163.0" y1="424.3046866065559" x2="166.0" y2="424.3046866065559" stroke="#1e1e1e" stroke-width="1.1"/>
<rect x="182.0" y="422.8" width="6" height="4.4" rx="1" fill="#fff" stroke="#1e1e1e" stroke-width="1.1"/>
<line x1="183.5" y1="424.46667536937315" x2="186.5" y2="424.46667536937315" stroke="#1e1e1e" stroke-width="1.1"/>
<rect x="194.0" y="422.5" width="6" height="4.4" rx="1" fill="#fff" stroke="#1e1e1e" stroke-width="1.1"/>
<line x1="195.5" y1="424.198317067561" x2="198.5" y2="424.198317067561" stroke="#1e1e1e" stroke-width="1.1"/>
<rect x="207.0" y="421.9" width="6" height="4.4" rx="1" fill="#fff" stroke="#1e1e1e" stroke-width="1.1"/>
<line x1="208.5" y1="423.5931856002438" x2="211.5" y2="423.5931856002438" stroke="#1e1e1e" stroke-width="1.1"/>
<rect x="233.0" y="419.6" width="6" height="4.4" rx="1" fill="#fff" stroke="#1e1e1e" stroke-width="1.1"/>
<line x1="234.5" y1="421.2674738238313" x2="237.5" y2="421.2674738238313" stroke="#1e1e1e" stroke-width="1.1"/>
<rect x="255.0" y="416.0" width="6" height="4.4" rx="1" fill="#fff" stroke="#1e1e1e" stroke-width="1.1"/>
<line x1="256.5" y1="417.7308826999164" x2="259.5" y2="417.7308826999164" stroke="#1e1e1e" stroke-width="1.1"/>
<rect x="261.5" y="414.6" width="6" height="4.4" rx="1" fill="#fff" stroke="#1e1e1e" stroke-width="1.1"/>
<line x1="263.0" y1="416.26293663522534" x2="266.0" y2="416.26293663522534" stroke="#1e1e1e" stroke-width="1.1"/>
<rect x="273.0" y="411.1" width="6" height="4.4" rx="1" fill="#fff" stroke="#1e1e1e" stroke-width="1.1"/>
<line x1="274.5" y1="412.84200930917524" x2="277.5" y2="412.84200930917524" stroke="#1e1e1e" stroke-width="1.1"/>
<rect x="281.5" y="407.2" width="6" height="4.4" rx="1" fill="#fff" stroke="#1e1e1e" stroke-width="1.1"/>
<line x1="283.0" y1="408.9431789544642" x2="286.0" y2="408.9431789544642" stroke="#1e1e1e" stroke-width="1.1"/>
<rect x="63.7" y="383.4" width="5.5" height="5" rx="1.5" fill="#fff" stroke="#1e1e1e" stroke-width="1.1"/>
<rect x="64.2" y="389.4" width="5.5" height="5" rx="1.5" fill="#fff" stroke="#1e1e1e" stroke-width="1.1"/>
<rect x="64.7" y="395.4" width="5.5" height="5" rx="1.5" fill="#fff" stroke="#1e1e1e" stroke-width="1.1"/>
<rect x="66.2" y="401.4" width="5.5" height="5" rx="1.5" fill="#fff" stroke="#1e1e1e" stroke-width="1.1"/>
<rect x="286.7" y="381.4" width="5.5" height="5" rx="1.5" fill="#fff" stroke="#1e1e1e" stroke-width="1.1"/>
<rect x="287.2" y="387.4" width="5.5" height="5" rx="1.5" fill="#fff" stroke="#1e1e1e" stroke-width="1.1"/>
<rect x="286.7" y="393.4" width="5.5" height="5" rx="1.5" fill="#fff" stroke="#1e1e1e" stroke-width="1.1"/>
<rect x="285.7" y="399.4" width="5.5" height="5" rx="1.5" fill="#fff" stroke="#1e1e1e" stroke-width="1.1"/>
<ellipse cx="256" cy="352.2" rx="9.1" ry="2.6" stroke="#1e1e1e" stroke-width="0.9" fill="#fff" />
<line x1="246.9" y1="352.4" x2="246.9" y2="363.4" stroke="#1e1e1e" stroke-width="0.9"/>
<line x1="265.1" y1="352.4" x2="265.1" y2="374" stroke="#1e1e1e" stroke-width="0.9"/>
<path d="M78,353.5 L145.2,312.6 L148.8,318.2 L81.4,359.2 Z" stroke="#1e1e1e" stroke-width="0.95" fill="#fff" />
<line x1="80" y1="356.5" x2="147" y2="315.5" stroke="#1e1e1e" stroke-width="0.6"/>
<line x1="140" y1="316" x2="143.5" y2="321.5" stroke="#1e1e1e" stroke-width="0.7"/>
<path d="M288.60,450.20 L288.45,451.70 L288.00,453.19 L287.25,454.67 L286.20,456.15 L284.86,457.60 L283.22,459.04 L281.30,460.45 L279.10,461.83 L276.62,463.18 L273.88,464.50 L270.87,465.78 L267.61,467.01 L264.11,468.20 L260.37,469.34 L256.41,470.42 L252.24,471.45 L247.86,472.43 L243.30,473.34 L238.56,474.19 L233.65,474.97 L228.59,475.68 L223.40,476.33 L218.08,476.90 L212.66,477.40 L207.14,477.83 L201.55,478.18 L195.89,478.45 L190.19,478.64 L184.45,478.76 L178.70,478.80 L172.95,478.76 L167.21,478.64 L161.51,478.45 L155.85,478.18 L150.26,477.83 L144.74,477.40 L139.32,476.90 L134.00,476.33 L128.81,475.68 L123.75,474.97 L118.84,474.19 L114.10,473.34 L109.54,472.43 L105.16,471.45 L100.99,470.42 L97.03,469.34 L93.29,468.20 L89.79,467.01 L86.53,465.78 L83.52,464.50 L80.78,463.18 L78.30,461.83 L76.10,460.45 L74.18,459.04 L72.54,457.60 L71.20,456.15 L70.15,454.67 L69.40,453.19 L68.95,451.70 L68.80,450.20 L68.95,448.70 L69.40,447.21 L70.15,445.73 L71.20,444.25 L72.54,442.80 L74.18,441.36 L76.10,439.95 L78.30,438.57 L80.78,437.22 L83.52,435.90 L86.53,434.62 L89.79,433.39 L93.29,432.20 L97.03,431.06 L100.99,429.98 L105.16,428.95 L109.54,427.97 L114.10,427.06 L118.84,426.21 L123.75,425.43 L128.81,424.72 L134.00,424.07 L139.32,423.50 L144.74,423.00 L150.26,422.57 L155.85,422.22 L161.51,421.95 L167.21,421.76 L172.95,421.64 L178.70,421.60 L184.45,421.64 L190.19,421.76 L195.89,421.95 L201.55,422.22 L207.14,422.57 L212.66,423.00 L218.08,423.50 L223.40,424.07 L228.59,424.72 L233.65,425.43 L238.56,426.21 L243.30,427.06 L247.86,427.97 L252.24,428.95 L256.41,429.98 L260.37,431.06 L264.11,432.20 L267.61,433.39 L270.87,434.62 L273.88,435.90 L276.62,437.22 L279.10,438.57 L281.30,439.95 L283.22,441.36 L284.86,442.80 L286.20,444.25 L287.25,445.73 L288.00,447.21 L288.45,448.70 L288.60,450.20 Z M286.00,449.40 L285.85,450.72 L285.41,452.03 L284.68,453.34 L283.66,454.64 L282.34,455.92 L280.75,457.19 L278.87,458.43 L276.72,459.65 L274.31,460.84 L271.62,462.00 L268.69,463.12 L265.51,464.21 L262.09,465.26 L258.44,466.26 L254.57,467.22 L250.50,468.13 L246.23,468.98 L241.77,469.79 L237.14,470.53 L232.35,471.22 L227.41,471.85 L222.34,472.42 L217.15,472.93 L211.86,473.37 L206.47,473.74 L201.01,474.05 L195.49,474.29 L189.92,474.46 L184.32,474.57 L178.70,474.60 L173.08,474.57 L167.48,474.46 L161.91,474.29 L156.39,474.05 L150.93,473.74 L145.54,473.37 L140.25,472.93 L135.06,472.42 L129.99,471.85 L125.05,471.22 L120.26,470.53 L115.63,469.79 L111.17,468.98 L106.90,468.13 L102.83,467.22 L98.96,466.26 L95.31,465.26 L91.89,464.21 L88.71,463.12 L85.78,462.00 L83.09,460.84 L80.68,459.65 L78.53,458.43 L76.65,457.19 L75.06,455.92 L73.74,454.64 L72.72,453.34 L71.99,452.03 L71.55,450.72 L71.40,449.40 L71.55,448.08 L71.99,446.77 L72.72,445.46 L73.74,444.16 L75.06,442.88 L76.65,441.61 L78.53,440.37 L80.68,439.15 L83.09,437.96 L85.78,436.80 L88.71,435.68 L91.89,434.59 L95.31,433.54 L98.96,432.54 L102.83,431.58 L106.90,430.67 L111.17,429.82 L115.63,429.01 L120.26,428.27 L125.05,427.58 L129.99,426.95 L135.06,426.38 L140.25,425.87 L145.54,425.43 L150.93,425.06 L156.39,424.75 L161.91,424.51 L167.48,424.34 L173.08,424.23 L178.70,424.20 L184.32,424.23 L189.92,424.34 L195.49,424.51 L201.01,424.75 L206.47,425.06 L211.86,425.43 L217.15,425.87 L222.34,426.38 L227.41,426.95 L232.35,427.58 L237.14,428.27 L241.77,429.01 L246.23,429.82 L250.50,430.67 L254.57,431.58 L258.44,432.54 L262.09,433.54 L265.51,434.59 L268.69,435.68 L271.62,436.80 L274.31,437.96 L276.72,439.15 L278.87,440.37 L280.75,441.61 L282.34,442.88 L283.66,444.16 L284.68,445.46 L285.41,446.77 L285.85,448.08 L286.00,449.40 Z" fill="#161616" fill-rule="evenodd" stroke="#161616" stroke-width="0.4"/>
<path d="M68.60,491.20 L68.69,490.07 L68.94,488.93 L69.38,487.80 L69.98,486.68 L70.75,485.56 L71.69,484.45 L72.80,483.36 L74.08,482.27 L75.52,481.20 L77.12,480.14 L78.88,479.10 L80.80,478.08 L82.87,477.08 L85.09,476.10 L87.46,475.14 L89.97,474.21 L92.62,473.31 L95.41,472.43 L98.33,471.58 L101.37,470.76 L104.54,469.98 L107.83,469.22 L111.22,468.50 L114.73,467.82 L118.33,467.17 L122.03,466.56 L125.82,465.98 L129.70,465.45 L133.65,464.95 L137.68,464.50 L141.77,464.09 L145.92,463.71 L150.13,463.39 L154.38,463.10 L158.67,462.86 L162.99,462.66 L167.35,462.50 L171.72,462.39 L176.11,462.32 L180.50,462.30 L184.89,462.32 L189.28,462.39 L193.65,462.50 L198.01,462.66 L202.33,462.86 L206.62,463.10 L210.87,463.39 L215.08,463.71 L219.23,464.09 L223.32,464.50 L227.35,464.95 L231.30,465.45 L235.18,465.98 L238.97,466.56 L242.67,467.17 L246.27,467.82 L249.78,468.50 L253.17,469.22 L256.46,469.98 L259.63,470.76 L262.67,471.58 L265.59,472.43 L268.38,473.31 L271.03,474.21 L273.54,475.14 L275.91,476.10 L278.13,477.08 L280.20,478.08 L282.12,479.10 L283.88,480.14 L285.48,481.20 L286.92,482.27 L288.20,483.36 L289.31,484.45 L290.25,485.56 L291.02,486.68 L291.62,487.80 L292.06,488.93 L292.31,490.07 L292.40,491.20" stroke="#1e1e1e" stroke-width="1.5" fill="none" />
<path d="M292.33,488.59 L292.40,489.75 L292.28,490.91 L291.99,492.07 L291.52,493.22 L290.87,494.37 L290.04,495.51 L289.03,496.64 L287.85,497.76 L286.49,498.87 L284.97,499.96 L283.27,501.03 L281.42,502.09 L279.39,503.12 L277.21,504.14 L274.88,505.13 L272.39,506.09 L269.75,507.03 L266.97,507.94 L264.05,508.83 L260.99,509.68 L257.81,510.49 L254.50,511.28 L251.07,512.03 L247.53,512.74 L243.88,513.42 L240.13,514.05 L236.28,514.65 L232.34,515.21 L228.32,515.73 L224.22,516.20 L220.05,516.63 L215.82,517.02 L211.53,517.37 L207.19,517.67 L202.81,517.92 L198.39,518.13 L193.94,518.29 L189.47,518.41 L184.99,518.48 L180.50,518.50 L176.01,518.48 L171.53,518.41 L167.06,518.29 L162.61,518.13 L158.19,517.92 L153.81,517.67 L149.47,517.37 L145.18,517.02 L140.95,516.63 L136.78,516.20 L132.68,515.73 L128.66,515.21 L124.72,514.65 L120.87,514.05 L117.12,513.42 L113.47,512.74 L109.93,512.03 L106.50,511.28 L103.19,510.49 L100.01,509.68 L96.95,508.83 L94.03,507.94 L91.25,507.03 L88.61,506.09 L86.12,505.13 L83.79,504.14 L81.61,503.12 L79.58,502.09 L77.73,501.03 L76.03,499.96 L74.51,498.87 L73.15,497.76 L71.97,496.64 L70.96,495.51 L70.13,494.37 L69.48,493.22 L69.01,492.07 L68.72,490.91 L68.60,489.75 L68.67,488.59" stroke="#1e1e1e" stroke-width="1.5" fill="none" />
<path d="M292.03,491.79 L292.10,492.95 L291.99,494.11 L291.69,495.27 L291.22,496.42 L290.57,497.57 L289.74,498.71 L288.74,499.84 L287.56,500.96 L286.21,502.07 L284.69,503.16 L283.00,504.23 L281.14,505.29 L279.13,506.32 L276.95,507.34 L274.62,508.33 L272.14,509.29 L269.51,510.23 L266.74,511.14 L263.82,512.03 L260.78,512.88 L257.60,513.69 L254.30,514.48 L250.88,515.23 L247.35,515.94 L243.71,516.62 L239.97,517.25 L236.13,517.85 L232.20,518.41 L228.19,518.93 L224.11,519.40 L219.95,519.83 L215.73,520.22 L211.45,520.57 L207.12,520.87 L202.75,521.12 L198.34,521.33 L193.91,521.49 L189.45,521.61 L184.98,521.68 L180.50,521.70 L176.02,521.68 L171.55,521.61 L167.09,521.49 L162.66,521.33 L158.25,521.12 L153.88,520.87 L149.55,520.57 L145.27,520.22 L141.05,519.83 L136.89,519.40 L132.81,518.93 L128.80,518.41 L124.87,517.85 L121.03,517.25 L117.29,516.62 L113.65,515.94 L110.12,515.23 L106.70,514.48 L103.40,513.69 L100.22,512.88 L97.18,512.03 L94.26,511.14 L91.49,510.23 L88.86,509.29 L86.38,508.33 L84.05,507.34 L81.87,506.32 L79.86,505.29 L78.00,504.23 L76.31,503.16 L74.79,502.07 L73.44,500.96 L72.26,499.84 L71.26,498.71 L70.43,497.57 L69.78,496.42 L69.31,495.27 L69.01,494.11 L68.90,492.95 L68.97,491.79" stroke="#1e1e1e" stroke-width="1.5" fill="none" />
<path d="M74.90,485.28 L75.49,484.02 L76.33,482.78 L77.43,481.55 L78.78,480.33 L80.38,479.13 L82.22,477.95 L84.30,476.79 L86.62,475.66 L89.17,474.56 L91.94,473.49 L94.93,472.45 L98.12,471.45 L101.52,470.49 L105.11,469.57 L108.89,468.70 L112.84,467.87 L116.95,467.09 L121.23,466.36 L125.64,465.68 L130.19,465.05 L134.87,464.48 L139.65,463.97 L144.54,463.51 L149.51,463.11 L154.56,462.78 L159.67,462.50 L164.83,462.28 L170.03,462.12 L175.26,462.03 L180.50,462.00 L185.74,462.03 L190.97,462.12 L196.17,462.28 L201.33,462.50 L206.44,462.78 L211.49,463.11 L216.46,463.51 L221.35,463.97 L226.13,464.48 L230.81,465.05 L235.36,465.68 L239.77,466.36 L244.05,467.09 L248.16,467.87 L252.11,468.70 L255.89,469.57 L259.48,470.49 L262.88,471.45 L266.07,472.45 L269.06,473.49 L271.83,474.56 L274.38,475.66 L276.70,476.79 L278.78,477.95 L280.62,479.13 L282.22,480.33 L283.57,481.55 L284.67,482.78 L285.51,484.02 L286.10,485.28" stroke="#1e1e1e" stroke-width="0.7" fill="none" />
<rect x="290.4" y="491.4" width="3.2" height="3.6" fill="#1e1e1e"/>
<rect x="289.0" y="494.4" width="3.2" height="3.6" fill="#1e1e1e"/>
<rect x="286.4" y="497.4" width="3.2" height="3.6" fill="#1e1e1e"/>
<rect x="282.6" y="500.2" width="3.2" height="3.6" fill="#1e1e1e"/>
<rect x="277.6" y="503.0" width="3.2" height="3.6" fill="#1e1e1e"/>
<rect x="271.6" y="505.6" width="3.2" height="3.6" fill="#1e1e1e"/>
<rect x="264.5" y="508.0" width="3.2" height="3.6" fill="#1e1e1e"/>
<rect x="256.6" y="510.2" width="3.2" height="3.6" fill="#1e1e1e"/>
<rect x="247.7" y="512.2" width="3.2" height="3.6" fill="#1e1e1e"/>
<rect x="238.1" y="513.9" width="3.2" height="3.6" fill="#1e1e1e"/>
<rect x="227.9" y="515.4" width="3.2" height="3.6" fill="#1e1e1e"/>
<rect x="217.1" y="516.6" width="3.2" height="3.6" fill="#1e1e1e"/>
<rect x="205.9" y="517.4" width="3.2" height="3.6" fill="#1e1e1e"/>
<rect x="194.5" y="518.0" width="3.2" height="3.6" fill="#1e1e1e"/>
<rect x="182.8" y="518.3" width="3.2" height="3.6" fill="#1e1e1e"/>
<rect x="171.1" y="518.2" width="3.2" height="3.6" fill="#1e1e1e"/>
<rect x="159.5" y="517.9" width="3.2" height="3.6" fill="#1e1e1e"/>
<rect x="148.1" y="517.2" width="3.2" height="3.6" fill="#1e1e1e"/>
<rect x="137.0" y="516.2" width="3.2" height="3.6" fill="#1e1e1e"/>
<rect x="126.4" y="514.9" width="3.2" height="3.6" fill="#1e1e1e"/>
<rect x="116.4" y="513.4" width="3.2" height="3.6" fill="#1e1e1e"/>
<rect x="107.0" y="511.5" width="3.2" height="3.6" fill="#1e1e1e"/>
<rect x="98.5" y="509.5" width="3.2" height="3.6" fill="#1e1e1e"/>
<rect x="90.8" y="507.2" width="3.2" height="3.6" fill="#1e1e1e"/>
<rect x="84.1" y="504.7" width="3.2" height="3.6" fill="#1e1e1e"/>
<rect x="78.4" y="502.1" width="3.2" height="3.6" fill="#1e1e1e"/>
<rect x="73.8" y="499.3" width="3.2" height="3.6" fill="#1e1e1e"/>
<rect x="70.4" y="496.4" width="3.2" height="3.6" fill="#1e1e1e"/>
<rect x="68.2" y="493.4" width="3.2" height="3.6" fill="#1e1e1e"/>
<rect x="69.5" y="483.7" width="3" height="3.2" fill="#fff" stroke="#1e1e1e" stroke-width="0.8"/>
<rect x="74.5" y="479.3" width="3" height="3.2" fill="#fff" stroke="#1e1e1e" stroke-width="0.8"/>
<rect x="82.1" y="475.2" width="3" height="3.2" fill="#fff" stroke="#1e1e1e" stroke-width="0.8"/>
<rect x="92.0" y="471.5" width="3" height="3.2" fill="#fff" stroke="#1e1e1e" stroke-width="0.8"/>
<rect x="104.1" y="468.2" width="3" height="3.2" fill="#fff" stroke="#1e1e1e" stroke-width="0.8"/>
<rect x="118.1" y="465.5" width="3" height="3.2" fill="#fff" stroke="#1e1e1e" stroke-width="0.8"/>
<rect x="133.5" y="463.3" width="3" height="3.2" fill="#fff" stroke="#1e1e1e" stroke-width="0.8"/>
<rect x="150.0" y="461.8" width="3" height="3.2" fill="#fff" stroke="#1e1e1e" stroke-width="0.8"/>
<rect x="167.3" y="461.0" width="3" height="3.2" fill="#fff" stroke="#1e1e1e" stroke-width="0.8"/>
<rect x="184.9" y="460.8" width="3" height="3.2" fill="#fff" stroke="#1e1e1e" stroke-width="0.8"/>
<rect x="202.3" y="461.4" width="3" height="3.2" fill="#fff" stroke="#1e1e1e" stroke-width="0.8"/>
<rect x="219.1" y="462.7" width="3" height="3.2" fill="#fff" stroke="#1e1e1e" stroke-width="0.8"/>
<rect x="235.0" y="464.7" width="3" height="3.2" fill="#fff" stroke="#1e1e1e" stroke-width="0.8"/>
<rect x="249.4" y="467.2" width="3" height="3.2" fill="#fff" stroke="#1e1e1e" stroke-width="0.8"/>
<rect x="262.2" y="470.4" width="3" height="3.2" fill="#fff" stroke="#1e1e1e" stroke-width="0.8"/>
<rect x="272.8" y="474.0" width="3" height="3.2" fill="#fff" stroke="#1e1e1e" stroke-width="0.8"/>
<rect x="281.2" y="477.9" width="3" height="3.2" fill="#fff" stroke="#1e1e1e" stroke-width="0.8"/>
<rect x="287.1" y="482.2" width="3" height="3.2" fill="#fff" stroke="#1e1e1e" stroke-width="0.8"/>
<circle cx="288.0" cy="478" r="2.3" fill="#fff" stroke="#1e1e1e" stroke-width="1.4"/>
<circle cx="288.6" cy="484" r="2.3" fill="#fff" stroke="#1e1e1e" stroke-width="1.4"/>
<circle cx="289.2" cy="490" r="2.3" fill="#fff" stroke="#1e1e1e" stroke-width="1.4"/>
<circle cx="289.8" cy="496" r="2.3" fill="#fff" stroke="#1e1e1e" stroke-width="1.4"/>
<path d="M68.8,492 C70.5,520 73,560 76.9,576" stroke="#1e1e1e" stroke-width="1.0" fill="none" />
<path d="M292.2,494 C291,520 288.5,550 285.8,570" stroke="#1e1e1e" stroke-width="1.0" fill="none" />
<path d="M286.50,567.00 L286.17,568.65 L285.20,570.29 L283.59,571.90 L281.34,573.49 L278.47,575.04 L275.00,576.53 L270.95,577.97 L266.35,579.34 L261.22,580.64 L255.60,581.85 L249.52,582.97 L243.01,583.99 L236.12,584.91 L228.90,585.71 L221.37,586.40 L213.60,586.97 L205.63,587.42 L197.50,587.74 L189.28,587.94 L181.00,588.00 L172.72,587.94 L164.50,587.74 L156.37,587.42 L148.40,586.97 L140.63,586.40 L133.10,585.71 L125.88,584.91 L118.99,583.99 L112.48,582.97 L106.40,581.85 L100.78,580.64 L95.65,579.34 L91.05,577.97 L87.00,576.53 L83.53,575.04 L80.66,573.49 L78.41,571.90 L76.80,570.29 L75.83,568.65 L75.50,567.00" stroke="#1e1e1e" stroke-width="1.1" fill="none" />
<path d="M285.50,572.00 L285.18,573.84 L284.21,575.68 L282.61,577.49 L280.39,579.26 L277.55,580.99 L274.11,582.67 L270.10,584.28 L265.54,585.81 L260.46,587.26 L254.89,588.62 L248.87,589.87 L242.42,591.01 L235.60,592.04 L228.44,592.94 L220.99,593.71 L213.29,594.35 L205.40,594.85 L197.35,595.21 L189.20,595.43 L181.00,595.50 L172.80,595.43 L164.65,595.21 L156.60,594.85 L148.71,594.35 L141.01,593.71 L133.56,592.94 L126.40,592.04 L119.58,591.01 L113.13,589.87 L107.11,588.62 L101.54,587.26 L96.46,585.81 L91.90,584.28 L87.89,582.67 L84.45,580.99 L81.61,579.26 L79.39,577.49 L77.79,575.68 L76.82,573.84 L76.50,572.00" stroke="#1e1e1e" stroke-width="1.0" fill="none" />
<path d="M77,577 L81,609" stroke="#1e1e1e" stroke-width="0.9" fill="none" />
<path d="M285.5,571 L277.5,612" stroke="#1e1e1e" stroke-width="0.9" fill="none" />
<path d="M278.00,612.00 L277.70,614.04 L276.79,616.07 L275.29,618.07 L273.20,620.03 L270.54,621.95 L267.32,623.80 L263.56,625.58 L259.28,627.28 L254.52,628.89 L249.30,630.38 L243.65,631.77 L237.60,633.03 L231.20,634.17 L224.49,635.17 L217.50,636.02 L210.28,636.73 L202.88,637.28 L195.33,637.68 L187.69,637.92 L180.00,638.00 L172.31,637.92 L164.67,637.68 L157.12,637.28 L149.72,636.73 L142.50,636.02 L135.51,635.17 L128.80,634.17 L122.40,633.03 L116.35,631.77 L110.70,630.38 L105.48,628.89 L100.72,627.28 L96.44,625.58 L92.68,623.80 L89.46,621.95 L86.80,620.03 L84.71,618.07 L83.21,616.07 L82.30,614.04 L82.00,612.00" stroke="#1e1e1e" stroke-width="1.1" fill="none" />
<path d="M275.53,611.17 L274.12,612.81 L272.25,614.42 L269.94,615.99 L267.18,617.52 L264.00,619.00 L260.42,620.42 L256.44,621.78 L252.09,623.06 L247.38,624.26 L242.35,625.39 L237.02,626.42 L231.40,627.35 L225.54,628.19 L219.45,628.93 L213.18,629.55 L206.74,630.07 L200.17,630.48 L193.50,630.77 L186.77,630.94 L180.00,631.00 L173.23,630.94 L166.50,630.77 L159.83,630.48 L153.26,630.07 L146.82,629.55 L140.55,628.93 L134.46,628.19 L128.60,627.35 L122.98,626.42 L117.65,625.39 L112.62,624.26 L107.91,623.06 L103.56,621.78 L99.58,620.42 L96.00,619.00 L92.82,617.52 L90.06,615.99 L87.75,614.42 L85.88,612.81 L84.47,611.17" stroke="#1e1e1e" stroke-width="0.8" fill="none" />
<rect x="111" y="629.6" width="18" height="4.5" rx="1.5" fill="#fff" stroke="#1e1e1e" stroke-width="0.9"/>
<rect x="177" y="635.0" width="18" height="4.5" rx="1.5" fill="#fff" stroke="#1e1e1e" stroke-width="0.9"/>
<rect x="235" y="628.7" width="18" height="4.5" rx="1.5" fill="#fff" stroke="#1e1e1e" stroke-width="0.9"/>
<line x1="76.0" y1="506.4691889037499" x2="77.5" y2="572.376802023508" stroke="#1e1e1e" stroke-width="1.05"/>
<line x1="83.0" y1="506.4691889037499" x2="82.5" y2="572.376802023508" stroke="#1e1e1e" stroke-width="1.05"/>
<line x1="77.4" y1="506.4691889037499" x2="79.9" y2="572.376802023508" stroke="#1e1e1e" stroke-width="0.6"/>
<line x1="104.0" y1="515.8002127993957" x2="105.5" y2="581.99699969994" stroke="#1e1e1e" stroke-width="1.05"/>
<line x1="111.0" y1="515.8002127993957" x2="110.5" y2="581.99699969994" stroke="#1e1e1e" stroke-width="1.05"/>
<line x1="105.4" y1="515.8002127993957" x2="107.9" y2="581.99699969994" stroke="#1e1e1e" stroke-width="0.6"/>
<line x1="154.5" y1="522.1179269945371" x2="156.0" y2="587.4899975597851" stroke="#1e1e1e" stroke-width="1.05"/>
<line x1="161.5" y1="522.1179269945371" x2="161.0" y2="587.4899975597851" stroke="#1e1e1e" stroke-width="1.05"/>
<line x1="155.9" y1="522.1179269945371" x2="158.4" y2="587.4899975597851" stroke="#1e1e1e" stroke-width="0.6"/>
<line x1="214.5" y1="521.0519939086004" x2="215.0" y2="586.6529895944612" stroke="#1e1e1e" stroke-width="1.05"/>
<line x1="221.5" y1="521.0519939086004" x2="220.0" y2="586.6529895944612" stroke="#1e1e1e" stroke-width="1.05"/>
<line x1="215.9" y1="521.0519939086004" x2="217.4" y2="586.6529895944612" stroke="#1e1e1e" stroke-width="0.6"/>
<line x1="258.5" y1="513.7289907700454" x2="259.0" y2="580.362634470792" stroke="#1e1e1e" stroke-width="1.05"/>
<line x1="265.5" y1="513.7289907700454" x2="264.0" y2="580.362634470792" stroke="#1e1e1e" stroke-width="1.05"/>
<line x1="259.9" y1="513.7289907700454" x2="261.4" y2="580.362634470792" stroke="#1e1e1e" stroke-width="0.6"/>
<line x1="279.5" y1="505.6338131511149" x2="280.0" y2="571.9839743177508" stroke="#1e1e1e" stroke-width="1.05"/>
<line x1="286.5" y1="505.6338131511149" x2="285.0" y2="571.9839743177508" stroke="#1e1e1e" stroke-width="1.05"/>
<line x1="280.9" y1="505.6338131511149" x2="282.4" y2="571.9839743177508" stroke="#1e1e1e" stroke-width="0.6"/>
<path d="M82,580 C83,620 86,622 96.0,622 C106,622 109,620 110,592" stroke="#1e1e1e" stroke-width="1.1" fill="none" />
<path d="M113,593 C114,630 117,632 134.0,632 C151,632 154,630 155,599" stroke="#1e1e1e" stroke-width="1.1" fill="none" />
<path d="M163,600 C164,632 167,634 184.5,634 C202,634 205,632 206,601" stroke="#1e1e1e" stroke-width="1.1" fill="none" />
<path d="M218,600 C219,627 222,629 237.0,629 C252,629 255,627 256,592" stroke="#1e1e1e" stroke-width="1.1" fill="none" />
<path d="M261,589 C262,615 265,617 269.0,617 C273,617 276,615 277,580" stroke="#1e1e1e" stroke-width="1.1" fill="none" />
<path d="M110.5,588 L113,622" stroke="#1e1e1e" stroke-width="0.7" fill="none" />
<path d="M157,596 L160,630" stroke="#1e1e1e" stroke-width="0.7" fill="none" />
<path d="M210,598 L212,632" stroke="#1e1e1e" stroke-width="0.7" fill="none" />
<path d="M258,586 L259,626" stroke="#1e1e1e" stroke-width="0.7" fill="none" />
<path d="M247.4,492 L247.4,510 A10,2.5 0 0 0 267.4,510 L267.4,492" stroke="#1e1e1e" stroke-width="0.9" fill="#fff" />
<ellipse cx="257.4" cy="492" rx="10" ry="2.6" stroke="#1e1e1e" stroke-width="0.9" fill="#fff" />
<path d="M91.9,449.5 L95.2,452.7 L91.9,455.7 L88.60000000000001,452.7 Z M91.9,456.8 L95.2,459.6 L91.9,462.6 L88.60000000000001,459.6 Z" fill="#1e1e1e"/>
<line x1="91.9" y1="453" x2="91.9" y2="459" stroke="#1e1e1e" stroke-width="0.9"/>
<path d="M108.8,445.5 Q113.8,443.5 118.8,445.5 M108.8,454.5 Q113.8,456 118.8,454.5 M112.2,445 L112.2,455 M115.39999999999999,445 L115.39999999999999,455" stroke="#1e1e1e" stroke-width="1.5" fill="none" />
<path d="M141.3,439.5 L144.60000000000002,442.7 L141.3,445.7 L138.0,442.7 Z M141.3,446.8 L144.60000000000002,449.6 L141.3,452.6 L138.0,449.6 Z" fill="#1e1e1e"/>
<line x1="141.3" y1="443" x2="141.3" y2="449" stroke="#1e1e1e" stroke-width="0.9"/>
<path d="M164.6,441.0 Q169.6,439.0 174.6,441.0 M164.6,450.0 Q169.6,451.5 174.6,450.0 M168.0,440.5 L168.0,450.5 M171.2,440.5 L171.2,450.5" stroke="#1e1e1e" stroke-width="1.5" fill="none" />
<path d="M198.9,438.5 L202.20000000000002,441.7 L198.9,444.7 L195.6,441.7 Z M198.9,445.8 L202.20000000000002,448.6 L198.9,451.6 L195.6,448.6 Z" fill="#1e1e1e"/>
<line x1="198.9" y1="442" x2="198.9" y2="448" stroke="#1e1e1e" stroke-width="0.9"/>
<path d="M221.4,441.5 Q226.4,439.5 231.4,441.5 M221.4,450.5 Q226.4,452 231.4,450.5 M224.8,441 L224.8,451 M228.0,441 L228.0,451" stroke="#1e1e1e" stroke-width="1.5" fill="none" />
<path d="M251.4,445.5 L254.70000000000002,448.7 L251.4,451.7 L248.1,448.7 Z M251.4,452.8 L254.70000000000002,455.6 L251.4,458.6 L248.1,455.6 Z" fill="#1e1e1e"/>
<line x1="251.4" y1="449" x2="251.4" y2="455" stroke="#1e1e1e" stroke-width="0.9"/>
<path d="M264.4,451.5 Q269.4,449.5 274.4,451.5 M264.4,460.5 Q269.4,462 274.4,460.5 M267.79999999999995,451 L267.79999999999995,461 M271.0,451 L271.0,461" stroke="#1e1e1e" stroke-width="1.5" fill="none" />
<path d="M285.3,455.5 L288.6,458.7 L285.3,461.7 L282.0,458.7 Z M285.3,462.8 L288.6,465.6 L285.3,468.6 L282.0,465.6 Z" fill="#1e1e1e"/>
<line x1="285.3" y1="459" x2="285.3" y2="465" stroke="#1e1e1e" stroke-width="0.9"/>
<path d="M82,487.4 Q87,485.4 92,487.4 M82,496.4 Q87,497.9 92,496.4 M85.4,486.9 L85.4,496.9 M88.6,486.9 L88.6,496.9" stroke="#1e1e1e" stroke-width="1.5" fill="none" />
<path d="M105.8,489.3 L109.1,492.5 L105.8,495.5 L102.5,492.5 Z M105.8,496.6 L109.1,499.40000000000003 L105.8,502.40000000000003 L102.5,499.40000000000003 Z" fill="#1e1e1e"/>
<line x1="105.8" y1="492.8" x2="105.8" y2="498.8" stroke="#1e1e1e" stroke-width="0.9"/>
<path d="M126,497.3 Q131,495.3 136,497.3 M126,506.3 Q131,507.8 136,506.3 M129.4,496.8 L129.4,506.8 M132.6,496.8 L132.6,506.8" stroke="#1e1e1e" stroke-width="1.5" fill="none" />
<path d="M158.9,497.3 L162.20000000000002,500.5 L158.9,503.5 L155.6,500.5 Z M158.9,504.6 L162.20000000000002,507.40000000000003 L158.9,510.40000000000003 L155.6,507.40000000000003 Z" fill="#1e1e1e"/>
<line x1="158.9" y1="500.8" x2="158.9" y2="506.8" stroke="#1e1e1e" stroke-width="0.9"/>
<path d="M182.6,499.3 Q187.6,497.3 192.6,499.3 M182.6,508.3 Q187.6,509.8 192.6,508.3 M186.0,498.8 L186.0,508.8 M189.2,498.8 L189.2,508.8" stroke="#1e1e1e" stroke-width="1.5" fill="none" />
<path d="M216.7,496.5 L220.0,499.7 L216.7,502.7 L213.39999999999998,499.7 Z M216.7,503.8 L220.0,506.6 L216.7,509.6 L213.39999999999998,506.6 Z" fill="#1e1e1e"/>
<line x1="216.7" y1="500" x2="216.7" y2="506" stroke="#1e1e1e" stroke-width="0.9"/>
<path d="M237.6,494.5 Q242.6,492.5 247.6,494.5 M237.6,503.5 Q242.6,505 247.6,503.5 M241.0,494 L241.0,504 M244.2,494 L244.2,504" stroke="#1e1e1e" stroke-width="1.5" fill="none" />
<path d="M264.6,486.5 L267.90000000000003,489.7 L264.6,492.7 L261.3,489.7 Z M264.6,493.8 L267.90000000000003,496.6 L264.6,499.6 L261.3,496.6 Z" fill="#1e1e1e"/>
<line x1="264.6" y1="490" x2="264.6" y2="496" stroke="#1e1e1e" stroke-width="0.9"/>
<line x1="100" y1="471" x2="100.3" y2="525" stroke="#1e1e1e" stroke-width="0.75"/>
<line x1="104" y1="470" x2="104.3" y2="525" stroke="#1e1e1e" stroke-width="0.75"/>
<line x1="150" y1="464" x2="150.3" y2="525" stroke="#1e1e1e" stroke-width="0.75"/>
<line x1="154" y1="464" x2="154.3" y2="525" stroke="#1e1e1e" stroke-width="0.75"/>
<line x1="190" y1="462.5" x2="190.3" y2="525" stroke="#1e1e1e" stroke-width="0.75"/>
<line x1="193" y1="462.5" x2="193.3" y2="525" stroke="#1e1e1e" stroke-width="0.75"/>
<line x1="203" y1="463" x2="203.3" y2="525" stroke="#1e1e1e" stroke-width="0.75"/>
<line x1="207" y1="463" x2="207.3" y2="525" stroke="#1e1e1e" stroke-width="0.75"/>
<line x1="240" y1="465" x2="240.3" y2="525" stroke="#1e1e1e" stroke-width="0.75"/>
<line x1="244" y1="466" x2="244.3" y2="525" stroke="#1e1e1e" stroke-width="0.75"/>
<line x1="275" y1="472" x2="275.3" y2="525" stroke="#1e1e1e" stroke-width="0.75"/>
<ellipse cx="59.5" cy="443.6" rx="10" ry="3" stroke="#1e1e1e" stroke-width="0.9" fill="#fff" />
<path d="M49.5,443.6 L49.5,453 A10,3 0 0 0 69.5,453 L69.5,443.6" stroke="#1e1e1e" stroke-width="0.9" fill="none" />
<path d="M47,444 L49.5,444 M47,444 L47,454 L49.5,454" stroke="#1e1e1e" stroke-width="0.9" fill="none" />
<ellipse cx="59.5" cy="468" rx="7.9" ry="2.6" stroke="#1e1e1e" stroke-width="0.9" fill="#fff" />
<path d="M51.6,468 L51.6,494 C52,508 60,516 71.4,518.5" stroke="#1e1e1e" stroke-width="0.9" fill="none" />
<path d="M67.4,468 L67.4,490" stroke="#1e1e1e" stroke-width="0.9" fill="none" />
<path d="M51.6,480.6 Q59.5,483 67.4,480.6 M51.6,492.4 Q59.5,495 67.4,492.4" stroke="#1e1e1e" stroke-width="0.7" fill="none" />
<circle cx="69.0" cy="466" r="2.2" fill="#fff" stroke="#1e1e1e" stroke-width="1.4"/>
<circle cx="70.0" cy="474" r="2.2" fill="#fff" stroke="#1e1e1e" stroke-width="1.4"/>
<circle cx="71.2" cy="484" r="2.2" fill="#fff" stroke="#1e1e1e" stroke-width="1.4"/>
<circle cx="72.1" cy="492" r="2.2" fill="#fff" stroke="#1e1e1e" stroke-width="1.4"/>
<circle cx="73.1" cy="500" r="2.2" fill="#fff" stroke="#1e1e1e" stroke-width="1.4"/>
<circle cx="74.0" cy="508" r="2.2" fill="#fff" stroke="#1e1e1e" stroke-width="1.4"/>
<path d="M68,466 L70,512" stroke="#1e1e1e" stroke-width="1.6" fill="none" />
<path d="M108,502.5 C112,496 123,496 125,505 C127,512 124,518 121,521" stroke="#1e1e1e" stroke-width="0.9" fill="none" />
<path d="M61.5,115.6 L73.8,117.4 L73.8,122.2 L61.5,120.4 Z" stroke="#1e1e1e" stroke-width="1.0" fill="#fff" />
<path d="M60,119 C55,122 55,137 60,140.5 L74,141 C80,137 80,121 74,118.5 Z" stroke="#1e1e1e" stroke-width="0.9" fill="#fff" />
<ellipse cx="73.3" cy="129.6" rx="5" ry="11" stroke="#1e1e1e" stroke-width="0.9" fill="none" />
<ellipse cx="72.2" cy="129.6" rx="3.5" ry="9.5" stroke="#1e1e1e" stroke-width="0.7" fill="none" />
<line x1="78" y1="131" x2="85.5" y2="132.5" stroke="#1e1e1e" stroke-width="0.8"/>
<path d="M88.5,122.7 L108.5,122.7 L108.5,143.1 L88.5,143.1 C84.5,140 84.5,126 88.5,122.7 Z" stroke="#1e1e1e" stroke-width="0.9" fill="#fff" />
<path d="M108.5,122.7 C115,116 120,112 128,113 L128,133.4 C122,136 116,140 108.5,143.1" stroke="#1e1e1e" stroke-width="0.9" fill="#fff" />
<path d="M111,121 C112,128 114,136 118,139.5 M115,117.5 C117,125 119,131 123,136 M120,114.5 C122,120 124,128 127,133.5" stroke="#1e1e1e" stroke-width="0.7" fill="none" />
<path d="M128,113 L238.9,126.3 C234,130 233.5,141 236.2,144.9 L128,133.4" stroke="#1e1e1e" stroke-width="0.95" fill="#fff" />
<path d="M142,114.7 C140,119 140,130 142,135.2 M147.5,115.3 C145.5,120 145.5,130 147.5,136" stroke="#1e1e1e" stroke-width="0.7" fill="none" />
<path d="M218.5,143.8 L218.5,150.2 L224.7,150.2 L224.7,144.5" stroke="#1e1e1e" stroke-width="0.8" fill="none" />
<path d="M219.7,150.2 L219.7,158.5 L223.5,158.5 L223.5,150.2" stroke="#1e1e1e" stroke-width="0.8" fill="none" />
<circle cx="221.2" cy="172.6" r="1.8" fill="#1e1e1e"/>
<path d="M238.9,126.3 L241.6,126.3 L241.6,149.3 L266,149.3 L266,126.3" stroke="#1e1e1e" stroke-width="0.95" fill="#fff" />
<path d="M236.2,144.9 L241.6,145.5" stroke="#1e1e1e" stroke-width="0.9" fill="none" />
<path d="M245,131.6 L248.6,139.6 L245,145.8" stroke="#1e1e1e" stroke-width="0.9" fill="none" />
<path d="M241.3,121 L241.3,126 A12.7,4.5 0 0 0 266.7,126 L266.7,121" stroke="#1e1e1e" stroke-width="0.9" fill="#fff" />
<path d="M241.6,122.5 L241.6,125.5 A12.4,4.3 0 0 0 266.4,125.5 L266.4,122.5 A12.4,4.3 0 0 1 241.6,122.5 Z" fill="#444"/>
<ellipse cx="254" cy="120.2" rx="12.7" ry="4.4" stroke="#1e1e1e" stroke-width="0.9" fill="#fff" />
<path d="M243.3,149.3 L243.3,158.7 A10.65,3 0 0 0 264.6,158.7 L264.6,149.3" stroke="#1e1e1e" stroke-width="0.9" fill="#fff" />
<path d="M243.3,149.6 A10.65,3 0 0 0 264.6,149.6" stroke="#1e1e1e" stroke-width="0.8" fill="none" />
<rect x="102.6" y="145.9" width="2.2" height="16.3" fill="#fff" stroke="#1e1e1e" stroke-width="0.8"/>
<rect x="100" y="161.4" width="26.6" height="5.9" rx="2.5" fill="#fff" stroke="#1e1e1e" stroke-width="1.1"/>
<line x1="100.5" y1="164.2" x2="126" y2="164.2" stroke="#1e1e1e" stroke-width="0.9"/>
<rect x="110.7" y="167.3" width="5.1" height="9" fill="#fff" stroke="#1e1e1e" stroke-width="0.8"/>
<rect x="109.2" y="176" width="8.1" height="3.3" fill="#333"/>
<path d="M107,179 L121,179 L121,188 Q121,191 117,191 L111,191 Q107,191 107,188 Z" stroke="#1e1e1e" stroke-width="0.9" fill="#fff" />
<path d="M110.7,191 L110.7,195.5 L115.8,195.5 L115.8,191" stroke="#1e1e1e" stroke-width="0.8" fill="none" />
<path d="M112,195.5 L112,200 L113.2,201.3 L114.5,200 L114.5,195.5" stroke="#1e1e1e" stroke-width="0.8" fill="none" />
<path d="M129.5,182 L137.5,179.9 L142.4,183 L142.4,203 L133,205.7 L129.5,203 Z" stroke="#1e1e1e" stroke-width="1.0" fill="#fff" />
<line x1="133.0" y1="189.0" x2="140" y2="186.0" stroke="#1e1e1e" stroke-width="0.9"/>
<line x1="133.3" y1="191.6" x2="140" y2="188.6" stroke="#1e1e1e" stroke-width="0.9"/>
<line x1="133.6" y1="194.2" x2="140" y2="191.2" stroke="#1e1e1e" stroke-width="0.9"/>
<line x1="133.9" y1="196.8" x2="140" y2="193.8" stroke="#1e1e1e" stroke-width="0.9"/>
<line x1="134.2" y1="199.4" x2="140" y2="196.4" stroke="#1e1e1e" stroke-width="0.9"/>
<line x1="134.5" y1="202.0" x2="140" y2="199.0" stroke="#1e1e1e" stroke-width="0.9"/>
<path d="M137.5,180 L141,183.5 L141,203 M133,205.7 L135,201" stroke="#1e1e1e" stroke-width="0.9" fill="none" />
<path d="M142.4,188.7 L142.4,213 Q142.4,216 152,216 Q161.7,216 161.7,213 L161.7,188.7" stroke="#1e1e1e" stroke-width="0.9" fill="#fff" />
<ellipse cx="152" cy="188.7" rx="9.65" ry="3" stroke="#1e1e1e" stroke-width="1.0" fill="#fff" />
<path d="M141,217.7 L162.4,217.7 L162.4,228.8 L141,228.8 Z" stroke="#1e1e1e" stroke-width="0.9" fill="#fff" />
<path d="M141,220 Q151.7,222.5 162.4,220 M141,222.5 Q151.7,225 162.4,222.5 M141,226 Q151.7,228 162.4,226" stroke="#1e1e1e" stroke-width="0.7" fill="none" />
<rect x="144" y="228.8" width="15.5" height="8" fill="#fff" stroke="#1e1e1e" stroke-width="0.9"/>
<ellipse cx="152.1" cy="239.1" rx="11.1" ry="3" stroke="#1e1e1e" stroke-width="0.9" fill="#fff" />
<circle cx="143.5" cy="239" r="0.9" fill="#1e1e1e"/><circle cx="160.5" cy="239" r="0.9" fill="#1e1e1e"/>
<path d="M150.5,242 L150.5,249 L120.5,271 L119.3,293.8 L136.7,298.4 L133.5,294.2 L125.2,292 L126.2,273.5 L154.5,252.5 L154.5,242" stroke="#1e1e1e" stroke-width="0.95" fill="#fff" />
<line x1="122.5" y1="272" x2="152.5" y2="250.5" stroke="#1e1e1e" stroke-width="0.5"/>
<ellipse cx="176.5" cy="267.4" rx="28.8" ry="8.1" stroke="#1e1e1e" stroke-width="0.9" fill="#fff" />
<ellipse cx="176.5" cy="265.7" rx="28.8" ry="8.1" stroke="#1e1e1e" stroke-width="0.95" fill="#fff" />
<circle cx="201.1" cy="267.5" r="0.8" fill="#1e1e1e"/>
<circle cx="194.5" cy="270.5" r="0.8" fill="#1e1e1e"/>
<circle cx="183.1" cy="272.3" r="0.8" fill="#1e1e1e"/>
<circle cx="169.9" cy="272.3" r="0.8" fill="#1e1e1e"/>
<circle cx="158.5" cy="270.5" r="0.8" fill="#1e1e1e"/>
<circle cx="151.9" cy="267.5" r="0.8" fill="#1e1e1e"/>
<circle cx="151.9" cy="263.9" r="0.8" fill="#1e1e1e"/>
<circle cx="158.5" cy="260.9" r="0.8" fill="#1e1e1e"/>
<circle cx="169.9" cy="259.1" r="0.8" fill="#1e1e1e"/>
<circle cx="183.1" cy="259.1" r="0.8" fill="#1e1e1e"/>
<circle cx="194.5" cy="260.9" r="0.8" fill="#1e1e1e"/>
<circle cx="201.1" cy="263.9" r="0.8" fill="#1e1e1e"/>
<path d="M165.4,257 L177,254.5 L182.4,257.5 L182.4,270.5 L171,273 L165.4,270.5 Z" stroke="#1e1e1e" stroke-width="1.1" fill="#fff" />
<path d="M165.4,257 L171,259.5 L182.4,257.5 M171,259.5 L171,273" stroke="#1e1e1e" stroke-width="0.9" fill="none" />
<circle cx="170.6" cy="267.2" r="3.4" fill="#fff" stroke="#1e1e1e" stroke-width="1.3"/>
<circle cx="170.6" cy="267.2" r="1.2" fill="#1e1e1e"/>
<path d="M172.5,253.5 L172.5,248 L175,245.8 L177.5,248 L177.5,254" stroke="#1e1e1e" stroke-width="1.0" fill="#fff" />
<path d="M182.4,262 L185,266 L184,270" stroke="#1e1e1e" stroke-width="0.9" fill="none" />
<path d="M167.6,269.5 L167.6,285.7 L176.5,285.7" stroke="#1e1e1e" stroke-width="0.8" fill="none" />
<ellipse cx="177.2" cy="284.6" rx="26.2" ry="6.6" stroke="#1e1e1e" stroke-width="1.0" fill="none" />
<path d="M203.40,285.20 L203.32,285.72 L203.08,286.23 L202.68,286.74 L202.12,287.24 L201.41,287.73 L200.54,288.20 L199.54,288.65 L198.40,289.08 L197.12,289.49 L195.73,289.87 L194.22,290.22 L192.60,290.54 L190.89,290.83 L189.09,291.08 L187.23,291.30 L185.30,291.48 L183.32,291.62 L181.30,291.72 L179.26,291.78 L177.20,291.80 L175.14,291.78 L173.10,291.72 L171.08,291.62 L169.10,291.48 L167.17,291.30 L165.31,291.08 L163.51,290.83 L161.80,290.54 L160.18,290.22 L158.67,289.87 L157.28,289.49 L156.00,289.08 L154.86,288.65 L153.86,288.20 L152.99,287.73 L152.28,287.24 L151.72,286.74 L151.32,286.23 L151.08,285.72 L151.00,285.20" stroke="#1e1e1e" stroke-width="2.2" fill="none" />
<ellipse cx="177.2" cy="283.8" rx="22.8" ry="4.9" stroke="#1e1e1e" stroke-width="0.9" fill="none" />
<path d="M227.3,230 L227.3,308 A27.8,5.2 0 0 0 282.9,308 L282.9,230" stroke="#1e1e1e" stroke-width="0.95" fill="#fff" />
<ellipse cx="255.1" cy="230" rx="27.8" ry="7.3" stroke="#1e1e1e" stroke-width="1.1" fill="#fff" />
<ellipse cx="255.1" cy="230.8" rx="25.5" ry="5.8" stroke="#1e1e1e" stroke-width="0.7" fill="none" />
<path d="M244.7,225.2 L244.7,232.5 A9.75,2 0 0 0 264.2,232.5 L264.2,225.2" stroke="#1e1e1e" stroke-width="0.9" fill="#fff" />
<ellipse cx="254.45" cy="225.2" rx="9.75" ry="2.5" stroke="#1e1e1e" stroke-width="0.9" fill="#fff" />
<path d="M286.5,241.4 L277,241.4 C272.5,244 272.5,257 277,259.4 L286.5,259.4" stroke="#1e1e1e" stroke-width="0.9" fill="#fff" />
<ellipse cx="286.5" cy="250.4" rx="3.8" ry="9" stroke="#1e1e1e" stroke-width="1.3" fill="#fff" />
<path d="M245.2,312.5 L245.2,322.5 A10.7,2.6 0 0 0 266.6,322.5 L266.6,312.5" stroke="#1e1e1e" stroke-width="0.9" fill="#fff" />
<path d="M372.34,328.33 L371.51,331.65 L370.62,335.11 L369.66,338.74 L368.64,342.52 L367.56,346.45 L366.44,350.52 L365.27,354.71 L364.06,359.03 L362.82,363.46 L361.55,368.01 L360.25,372.65 L358.94,377.38 L357.61,382.20 L356.28,387.10 L354.94,392.07 L353.60,397.11 L352.27,402.20 L350.95,407.34 L349.65,412.52 L348.36,417.74 L347.11,422.99 L345.89,428.25 L344.70,433.54 L343.56,438.82 L342.46,444.11 L341.41,449.39 L340.42,454.66 L339.50,459.91 L338.64,465.13 L337.85,470.28" stroke="#1e1e1e" stroke-width="0.9" fill="none" />
<path d="M381.66,330.67 L380.82,334.02 L379.90,337.55 L378.93,341.22 L377.90,345.04 L376.82,349.00 L375.69,353.08 L374.51,357.29 L373.30,361.62 L372.06,366.05 L370.79,370.59 L369.50,375.22 L368.19,379.94 L366.87,384.74 L365.54,389.61 L364.21,394.55 L362.88,399.55 L361.56,404.61 L360.25,409.70 L358.96,414.84 L357.69,420.00 L356.45,425.19 L355.25,430.39 L354.07,435.60 L352.95,440.82 L351.87,446.02 L350.84,451.21 L349.87,456.38 L348.96,461.52 L348.12,466.63 L347.35,471.72" stroke="#1e1e1e" stroke-width="0.9" fill="none" />
<path d="M372.34,328.33 A4.8,4.8 0 0 1 381.66,330.67" stroke="#1e1e1e" stroke-width="0.9" fill="none" />
<path d="M337.85,470.28 A4.25,3 0 0 1 347.35,471.72" stroke="#1e1e1e" stroke-width="0.9" fill="none" />
<path d="M425.20,274.00 L425.20,276.51 L425.19,278.86 L425.18,281.05 L425.17,283.09 L425.15,284.99 L425.11,286.75 L425.07,288.40 L425.02,289.93 L424.95,291.35 L424.87,292.67 L424.77,293.90 L424.66,295.05 L424.53,296.13 L424.38,297.15 L424.21,298.11 L424.02,299.03 L423.81,299.91 L423.58,300.78 L423.31,301.63 L423.03,302.48 L422.70,303.34 L422.35,304.23 L421.96,305.14 L421.54,306.09 L421.07,307.08 L420.57,308.14 L420.02,309.25 L419.43,310.44 L418.80,311.71 L418.22,312.89 L416.67,315.14 L414.84,317.41 L412.74,319.69 L410.39,322.00 L407.82,324.32 L405.05,326.65 L402.09,329.01 L398.98,331.38 L395.73,333.77 L392.37,336.18 L388.92,338.61 L385.40,341.08 L381.84,343.57 L378.24,346.10 L374.65,348.67 L371.07,351.28 L367.53,353.93 L364.05,356.63 L360.65,359.39 L357.35,362.20 L354.18,365.07 L351.16,368.01 L348.30,371.02 L345.64,374.11 L343.19,377.28 L340.97,380.54 L339.01,383.89 L337.34,387.33 L335.98,390.88 L334.97,394.45 L334.57,396.03 L334.21,397.63 L333.87,399.27 L333.56,400.95 L333.28,402.67 L333.03,404.45 L332.80,406.28 L332.59,408.16 L332.41,410.10 L332.25,412.10 L332.10,414.17 L331.98,416.31 L331.87,418.53 L331.78,420.82 L331.70,423.19 L331.64,425.65 L331.59,428.19 L331.54,430.83 L331.51,433.56 L331.49,436.39 L331.48,439.33 L331.47,442.37 L331.47,445.53 L331.47,448.79 L331.47,452.18 L331.48,455.69 L331.49,459.32 L331.49,463.08 L331.50,466.97 L331.50,471.00 L335.70,471.00 L335.70,466.97 L335.69,463.07 L335.69,459.31 L335.68,455.68 L335.67,452.17 L335.67,448.79 L335.67,445.53 L335.67,442.38 L335.68,439.35 L335.69,436.42 L335.71,433.60 L335.74,430.88 L335.78,428.27 L335.84,425.74 L335.90,423.31 L335.98,420.97 L336.07,418.71 L336.17,416.54 L336.29,414.44 L336.43,412.42 L336.59,410.47 L336.77,408.58 L336.97,406.76 L337.19,405.01 L337.44,403.31 L337.70,401.66 L337.99,400.07 L338.31,398.52 L338.66,397.01 L339.03,395.55 L339.96,392.20 L341.19,389.00 L342.72,385.86 L344.52,382.78 L346.58,379.75 L348.89,376.77 L351.42,373.84 L354.15,370.97 L357.06,368.14 L360.13,365.35 L363.33,362.62 L366.66,359.93 L370.07,357.27 L373.56,354.66 L377.10,352.08 L380.67,349.53 L384.25,347.01 L387.81,344.52 L391.34,342.05 L394.81,339.60 L398.20,337.16 L401.50,334.74 L404.67,332.32 L407.71,329.91 L410.58,327.49 L413.27,325.06 L415.76,322.62 L418.02,320.15 L420.04,317.65 L421.78,315.11 L422.56,313.58 L423.19,312.31 L423.79,311.11 L424.35,309.97 L424.87,308.88 L425.36,307.83 L425.81,306.82 L426.23,305.83 L426.62,304.86 L426.98,303.89 L427.31,302.92 L427.61,301.94 L427.88,300.95 L428.12,299.94 L428.34,298.89 L428.53,297.81 L428.69,296.69 L428.83,295.51 L428.96,294.27 L429.06,292.96 L429.14,291.57 L429.21,290.10 L429.27,288.53 L429.31,286.85 L429.35,285.05 L429.37,283.13 L429.38,281.07 L429.39,278.87 L429.40,276.52 L429.40,274.00 Z" fill="#fff" stroke="none"/>
<path d="M425.20,274.00 L425.20,276.51 L425.19,278.86 L425.18,281.05 L425.17,283.09 L425.15,284.99 L425.11,286.75 L425.07,288.40 L425.02,289.93 L424.95,291.35 L424.87,292.67 L424.77,293.90 L424.66,295.05 L424.53,296.13 L424.38,297.15 L424.21,298.11 L424.02,299.03 L423.81,299.91 L423.58,300.78 L423.31,301.63 L423.03,302.48 L422.70,303.34 L422.35,304.23 L421.96,305.14 L421.54,306.09 L421.07,307.08 L420.57,308.14 L420.02,309.25 L419.43,310.44 L418.80,311.71 L418.22,312.89 L416.67,315.14 L414.84,317.41 L412.74,319.69 L410.39,322.00 L407.82,324.32 L405.05,326.65 L402.09,329.01 L398.98,331.38 L395.73,333.77 L392.37,336.18 L388.92,338.61 L385.40,341.08 L381.84,343.57 L378.24,346.10 L374.65,348.67 L371.07,351.28 L367.53,353.93 L364.05,356.63 L360.65,359.39 L357.35,362.20 L354.18,365.07 L351.16,368.01 L348.30,371.02 L345.64,374.11 L343.19,377.28 L340.97,380.54 L339.01,383.89 L337.34,387.33 L335.98,390.88 L334.97,394.45 L334.57,396.03 L334.21,397.63 L333.87,399.27 L333.56,400.95 L333.28,402.67 L333.03,404.45 L332.80,406.28 L332.59,408.16 L332.41,410.10 L332.25,412.10 L332.10,414.17 L331.98,416.31 L331.87,418.53 L331.78,420.82 L331.70,423.19 L331.64,425.65 L331.59,428.19 L331.54,430.83 L331.51,433.56 L331.49,436.39 L331.48,439.33 L331.47,442.37 L331.47,445.53 L331.47,448.79 L331.47,452.18 L331.48,455.69 L331.49,459.32 L331.49,463.08 L331.50,466.97 L331.50,471.00" stroke="#1e1e1e" stroke-width="0.85" fill="none" />
<path d="M429.40,274.00 L429.40,276.52 L429.39,278.87 L429.38,281.07 L429.37,283.13 L429.35,285.05 L429.31,286.85 L429.27,288.53 L429.21,290.10 L429.14,291.57 L429.06,292.96 L428.96,294.27 L428.83,295.51 L428.69,296.69 L428.53,297.81 L428.34,298.89 L428.12,299.94 L427.88,300.95 L427.61,301.94 L427.31,302.92 L426.98,303.89 L426.62,304.86 L426.23,305.83 L425.81,306.82 L425.36,307.83 L424.87,308.88 L424.35,309.97 L423.79,311.11 L423.19,312.31 L422.56,313.58 L421.78,315.11 L420.04,317.65 L418.02,320.15 L415.76,322.62 L413.27,325.06 L410.58,327.49 L407.71,329.91 L404.67,332.32 L401.50,334.74 L398.20,337.16 L394.81,339.60 L391.34,342.05 L387.81,344.52 L384.25,347.01 L380.67,349.53 L377.10,352.08 L373.56,354.66 L370.07,357.27 L366.66,359.93 L363.33,362.62 L360.13,365.35 L357.06,368.14 L354.15,370.97 L351.42,373.84 L348.89,376.77 L346.58,379.75 L344.52,382.78 L342.72,385.86 L341.19,389.00 L339.96,392.20 L339.03,395.55 L338.66,397.01 L338.31,398.52 L337.99,400.07 L337.70,401.66 L337.44,403.31 L337.19,405.01 L336.97,406.76 L336.77,408.58 L336.59,410.47 L336.43,412.42 L336.29,414.44 L336.17,416.54 L336.07,418.71 L335.98,420.97 L335.90,423.31 L335.84,425.74 L335.78,428.27 L335.74,430.88 L335.71,433.60 L335.69,436.42 L335.68,439.35 L335.67,442.38 L335.67,445.53 L335.67,448.79 L335.67,452.17 L335.68,455.68 L335.69,459.31 L335.69,463.07 L335.70,466.97 L335.70,471.00" stroke="#1e1e1e" stroke-width="0.85" fill="none" />
<path d="M425.20,274.00 A2.1,2.1 0 0 1 429.40,274.00" stroke="#1e1e1e" stroke-width="0.9" fill="none" />
<path d="M331.50,471.00 A2.1,2.1 0 0 1 335.70,471.00" stroke="#1e1e1e" stroke-width="0.9" fill="none" />
<line x1="425" y1="274.5" x2="429.5" y2="274.5" stroke="#1e1e1e" stroke-width="1.6"/>
<circle cx="382.6" cy="322.5" r="4.9" fill="#fff" stroke="#1e1e1e" stroke-width="1.2"/>
<ellipse cx="333.3" cy="490.2" rx="2.4" ry="1.8" fill="#222"/>
<ellipse cx="342.6" cy="490.2" rx="4.6" ry="2.6" fill="#fff" stroke="#1e1e1e" stroke-width="1.4"/>
<path d="M371.97,515.89 L372.10,516.56 L372.00,517.24 L371.67,517.92 L371.12,518.58 L370.35,519.24 L369.37,519.87 L368.18,520.48 L366.79,521.07 L365.21,521.62 L363.46,522.14 L361.53,522.62 L359.46,523.06 L357.24,523.46 L354.90,523.81 L352.45,524.11 L349.91,524.35 L347.30,524.55 L344.63,524.69 L341.92,524.77 L339.20,524.80 L336.48,524.77 L333.77,524.69 L331.10,524.55 L328.49,524.35 L325.95,524.11 L323.50,523.81 L321.16,523.46 L318.94,523.06 L316.87,522.62 L314.94,522.14 L313.19,521.62 L311.61,521.07 L310.22,520.48 L309.03,519.87 L308.05,519.24 L307.28,518.58 L306.73,517.92 L306.40,517.24 L306.30,516.56 L306.43,515.89" stroke="#1e1e1e" stroke-width="2.0" fill="none" />
<path d="M306.3,516 L306.3,514" stroke="#1e1e1e" stroke-width="1" fill="none" />
<ellipse cx="339.3" cy="510.5" rx="30.3" ry="8.0" stroke="#1e1e1e" stroke-width="1.5" fill="#fff" />
<ellipse cx="339" cy="512.3" rx="24" ry="5.2" stroke="#1e1e1e" stroke-width="0.9" fill="none" />
<ellipse cx="339" cy="513.5" rx="10.5" ry="3" stroke="#1e1e1e" stroke-width="1.5" fill="#fff" />
<path d="M331,511 L331,506 A2.6,1 0 0 1 336.2,506 L336.2,511" stroke="#1e1e1e" stroke-width="0.9" fill="#fff" />
<path d="M339.5,512 L339.5,504 A3.5,1.2 0 0 1 346.5,504 L346.5,512" stroke="#1e1e1e" stroke-width="0.9" fill="#fff" />
<path d="M329.6,525 L329.6,531 A9.95,2.2 0 0 0 349.5,531 L349.5,525" stroke="#1e1e1e" stroke-width="0.9" fill="none" />
<ellipse cx="339.9" cy="543.9" rx="30.3" ry="8.65" stroke="#444" stroke-width="1.0" fill="none" />
<ellipse cx="339.9" cy="544.2" rx="28.2" ry="7.3" stroke="#444" stroke-width="0.9" fill="none" />
<ellipse cx="339.25" cy="563.5" rx="34.25" ry="8.3" stroke="#1e1e1e" stroke-width="1.6" fill="none" />
<ellipse cx="339.25" cy="564.2" rx="31.5" ry="6.8" stroke="#1e1e1e" stroke-width="0.9" fill="none" />
<path d="M311,557 L327,554.5" stroke="#1e1e1e" stroke-width="2.2" fill="none" />
<path d="M306.2,595 C304.5,612 304.5,640 306.2,655 C307.5,675 309.5,690 311.5,695 A29.9,6 0 0 0 371.3,695 C373.5,690 375.5,675 374.5,655 C376,640 376,612 374.5,595" stroke="#1e1e1e" stroke-width="0.95" fill="#fff" />
<ellipse cx="339.6" cy="585.8" rx="32.5" ry="8.5" stroke="#1e1e1e" stroke-width="1.1" fill="#fff" />
<path d="M372.10,591.50 L372.00,592.17 L371.70,592.83 L371.20,593.48 L370.51,594.13 L369.63,594.75 L368.56,595.36 L367.31,595.94 L365.89,596.50 L364.31,597.02 L362.58,597.51 L360.71,597.96 L358.70,598.38 L356.58,598.75 L354.35,599.07 L352.04,599.35 L349.64,599.58 L347.19,599.77 L344.68,599.90 L342.15,599.97 L339.60,600.00 L337.05,599.97 L334.52,599.90 L332.01,599.77 L329.56,599.58 L327.16,599.35 L324.85,599.07 L322.62,598.75 L320.50,598.38 L318.49,597.96 L316.62,597.51 L314.89,597.02 L313.31,596.50 L311.89,595.94 L310.64,595.36 L309.57,594.75 L308.69,594.13 L308.00,593.48 L307.50,592.83 L307.20,592.17 L307.10,591.50" stroke="#1e1e1e" stroke-width="1.0" fill="none" />
<path d="M307.1,585.8 L307.1,591.5 M372.1,585.8 L372.1,591.5" stroke="#1e1e1e" stroke-width="0.9" fill="none" />
<ellipse cx="339.6" cy="586.2" rx="26" ry="6.3" stroke="#1e1e1e" stroke-width="1.3" fill="none" />
<ellipse cx="339.6" cy="588" rx="23.5" ry="4.6" stroke="#1e1e1e" stroke-width="1.2" fill="none" />
<path d="M374.20,625.00 L374.09,625.47 L373.78,625.94 L373.26,626.40 L372.53,626.85 L371.60,627.30 L370.47,627.72 L369.16,628.13 L367.67,628.53 L366.01,628.90 L364.18,629.24 L362.21,629.56 L360.10,629.85 L357.87,630.12 L355.53,630.35 L353.09,630.54 L350.57,630.71 L347.98,630.83 L345.35,630.93 L342.68,630.98 L340.00,631.00 L337.32,630.98 L334.65,630.93 L332.02,630.83 L329.43,630.71 L326.91,630.54 L324.47,630.35 L322.13,630.12 L319.90,629.85 L317.79,629.56 L315.82,629.24 L313.99,628.90 L312.33,628.53 L310.84,628.13 L309.53,627.72 L308.40,627.30 L307.47,626.85 L306.74,626.40 L306.22,625.94 L305.91,625.47 L305.80,625.00" stroke="#1e1e1e" stroke-width="0.9" fill="none" />
<path d="M374.50,658.50 L374.39,658.97 L374.08,659.44 L373.55,659.90 L372.81,660.35 L371.87,660.80 L370.74,661.22 L369.42,661.63 L367.91,662.03 L366.23,662.40 L364.40,662.74 L362.41,663.06 L360.28,663.35 L358.03,663.62 L355.66,663.85 L353.20,664.04 L350.66,664.21 L348.05,664.33 L345.40,664.43 L342.71,664.48 L340.00,664.50 L337.29,664.48 L334.60,664.43 L331.95,664.33 L329.34,664.21 L326.80,664.04 L324.34,663.85 L321.97,663.62 L319.72,663.35 L317.59,663.06 L315.60,662.74 L313.77,662.40 L312.09,662.03 L310.58,661.63 L309.26,661.22 L308.13,660.80 L307.19,660.35 L306.45,659.90 L305.92,659.44 L305.61,658.97 L305.50,658.50" stroke="#1e1e1e" stroke-width="0.9" fill="none" />
<path d="M305.5,598 L303.5,607 L305,608" stroke="#1e1e1e" stroke-width="2.2" fill="none" />
<path d="M374,598 L376.5,607 L375,609" stroke="#1e1e1e" stroke-width="2.2" fill="none" />
<path d="M88.3,291.3 L103,281.8 L110.7,292.5 L96.5,301.3 Z" stroke="#1e1e1e" stroke-width="1.0" fill="#fff" />
<path d="M88.3,291.3 L89,295 L97,304.5 L111,295.5 L110.7,292.5" stroke="#1e1e1e" stroke-width="0.9" fill="none" />
<line x1="90.5" y1="289.8" x2="97.0" y2="298.5" stroke="#1e1e1e" stroke-width="0.8"/>
<line x1="92.1" y1="288.8" x2="98.6" y2="297.5" stroke="#1e1e1e" stroke-width="0.8"/>
<line x1="93.7" y1="287.8" x2="100.2" y2="296.5" stroke="#1e1e1e" stroke-width="0.8"/>
<line x1="95.3" y1="286.8" x2="101.8" y2="295.5" stroke="#1e1e1e" stroke-width="0.8"/>
<line x1="96.9" y1="285.8" x2="103.4" y2="294.5" stroke="#1e1e1e" stroke-width="0.8"/>
<line x1="98.5" y1="284.8" x2="105.0" y2="293.5" stroke="#1e1e1e" stroke-width="0.8"/>
<path d="M98,297 L104,293" stroke="#1e1e1e" stroke-width="1.3" fill="none" />
<path d="M101.9,307.8 L112.5,300.1 L120.2,305.5 L104.8,314.9 Z" stroke="#1e1e1e" stroke-width="1.0" fill="#fff" />
<line x1="104" y1="306.5" x2="108" y2="311.0" stroke="#1e1e1e" stroke-width="0.7"/>
<line x1="106" y1="305.1" x2="110" y2="309.6" stroke="#1e1e1e" stroke-width="0.7"/>
<line x1="108" y1="303.7" x2="112" y2="308.2" stroke="#1e1e1e" stroke-width="0.7"/>
<line x1="110" y1="302.3" x2="114" y2="306.8" stroke="#1e1e1e" stroke-width="0.7"/>
<line x1="112" y1="300.9" x2="116" y2="305.4" stroke="#1e1e1e" stroke-width="0.7"/>
<path d="M101.9,307.8 L102.5,311 L105,317 M120.2,305.5 L121,309" stroke="#1e1e1e" stroke-width="0.9" fill="none" />
<path d="M114.9,312 L121,308 L123.5,313 L117,317.5 Z M117,310.5 L121.5,316" stroke="#1e1e1e" stroke-width="1.1" fill="#fff" />
<text x="10.2" y="141.2" font-size="15.4" fill="#111" stroke="#111" stroke-width="0.25">13</text>
<text x="10.2" y="186" font-size="15.4" fill="#111" stroke="#111" stroke-width="0.25">14</text>
<text x="13.8" y="215.2" font-size="15.4" fill="#111" stroke="#111" stroke-width="0.25">15a</text>
<text x="13.8" y="230.6" font-size="15.4" fill="#111" stroke="#111" stroke-width="0.25">15b</text>
<text x="22.5" y="321.4" font-size="15.4" fill="#111" stroke="#111" stroke-width="0.25">16</text>
<text x="22.5" y="336.8" font-size="15.4" fill="#111" stroke="#111" stroke-width="0.25">17</text>
<text x="12.2" y="372.3" font-size="15.4" fill="#111" stroke="#111" stroke-width="0.25">18a</text>
<text x="12.2" y="390.5" font-size="15.4" fill="#111" stroke="#111" stroke-width="0.25">18b</text>
<text x="4.8" y="455.4" font-size="15.4" fill="#111" stroke="#111" stroke-width="0.25">13</text>
<text x="4.8" y="507.4" font-size="15.4" fill="#111" stroke="#111" stroke-width="0.25">19</text>
<text x="347.6" y="178.4" font-size="15.4" fill="#111" stroke="#111" stroke-width="0.25">2a</text>
<text x="309.6" y="256" font-size="15.4" fill="#111" stroke="#111" stroke-width="0.25">22</text>
<text x="309.6" y="273" font-size="15.4" fill="#111" stroke="#111" stroke-width="0.25">21</text>
<text x="309.6" y="290.7" font-size="15.4" fill="#111" stroke="#111" stroke-width="0.25">20</text>
<text x="432.6" y="327.3" font-size="15.4" fill="#111" stroke="#111" stroke-width="0.25">2b</text>
<text x="432.6" y="355.2" font-size="15.4" fill="#111" stroke="#111" stroke-width="0.25">5b</text>
<text x="432.6" y="386.9" font-size="15.4" fill="#111" stroke="#111" stroke-width="0.25">5a</text>
<text x="432.6" y="426.6" font-size="15.4" fill="#111" stroke="#111" stroke-width="0.25">3a</text>
<text x="432.6" y="444.3" font-size="15.4" fill="#111" stroke="#111" stroke-width="0.25">3b</text>
<text x="432.6" y="470.6" font-size="15.4" fill="#111" stroke="#111" stroke-width="0.25">2a</text>
<text x="432.6" y="495.8" font-size="15.4" fill="#111" stroke="#111" stroke-width="0.25">2b</text>
<text x="432.6" y="523" font-size="15.4" fill="#111" stroke="#111" stroke-width="0.25">7b</text>
<text x="432.6" y="543.7" font-size="15.4" fill="#111" stroke="#111" stroke-width="0.25">8</text>
<text x="432.6" y="650" font-size="15.4" fill="#111" stroke="#111" stroke-width="0.25">9</text>
<line x1="29.5" y1="136.5" x2="53.7" y2="136.5" stroke="#1e1e1e" stroke-width="1.1"/>
<line x1="35" y1="179.5" x2="100" y2="179.5" stroke="#1e1e1e" stroke-width="1.1"/>
<line x1="48.5" y1="211.5" x2="148.5" y2="211.5" stroke="#1e1e1e" stroke-width="1.1"/>
<line x1="48.5" y1="317.5" x2="118" y2="317.5" stroke="#1e1e1e" stroke-width="1.1"/>
<line x1="48.5" y1="333.5" x2="119.5" y2="333.5" stroke="#1e1e1e" stroke-width="1.1"/>
<line x1="119.5" y1="333.5" x2="119.5" y2="318" stroke="#1e1e1e" stroke-width="1.1"/>
<line x1="48.5" y1="367.5" x2="117.5" y2="367.5" stroke="#1e1e1e" stroke-width="1.1"/>
<line x1="24" y1="450.5" x2="55" y2="450.5" stroke="#1e1e1e" stroke-width="1.1"/>
<line x1="24" y1="502.5" x2="108" y2="502.5" stroke="#1e1e1e" stroke-width="1.1"/>
<line x1="221.2" y1="172.5" x2="348" y2="172.5" stroke="#1e1e1e" stroke-width="1.1"/>
<line x1="177.7" y1="251.5" x2="306" y2="251.5" stroke="#1e1e1e" stroke-width="1.1"/>
<line x1="200.5" y1="265.5" x2="306" y2="265.5" stroke="#1e1e1e" stroke-width="1.1"/>
<line x1="200.5" y1="283.5" x2="306" y2="283.5" stroke="#1e1e1e" stroke-width="1.1"/>
<line x1="387.9" y1="322.5" x2="433" y2="322.5" stroke="#1e1e1e" stroke-width="1.1"/>
<line x1="381.4" y1="350.5" x2="433" y2="350.5" stroke="#1e1e1e" stroke-width="1.1"/>
<line x1="366" y1="382.5" x2="433" y2="382.5" stroke="#1e1e1e" stroke-width="1.1"/>
<line x1="281.5" y1="421.5" x2="433" y2="421.5" stroke="#1e1e1e" stroke-width="1.1"/>
<line x1="281.5" y1="421.5" x2="281.5" y2="450" stroke="#1e1e1e" stroke-width="1.1"/>
<line x1="319.5" y1="465.5" x2="433" y2="465.5" stroke="#1e1e1e" stroke-width="1.1"/>
<line x1="319.5" y1="465.5" x2="319.5" y2="489.5" stroke="#1e1e1e" stroke-width="1.1"/>
<line x1="319.5" y1="489.5" x2="333" y2="489.5" stroke="#1e1e1e" stroke-width="1.1"/>
<line x1="346.6" y1="489.5" x2="433" y2="489.5" stroke="#1e1e1e" stroke-width="1.1"/>
<line x1="366.8" y1="518.5" x2="433" y2="518.5" stroke="#1e1e1e" stroke-width="1.1"/>
<line x1="364.8" y1="536.5" x2="433" y2="538" stroke="#1e1e1e" stroke-width="1.1"/>
<line x1="366.4" y1="644.5" x2="433" y2="644.5" stroke="#1e1e1e" stroke-width="1.1"/>
<path d="M0,121.2 L57,129.3" stroke="#1e1e1e" stroke-width="0.95" fill="none" stroke-dasharray="13,3,3,3" />
<path d="M221.2,172.6 L221.2,185.7" stroke="#1e1e1e" stroke-width="0.95" fill="none" />
<path d="M221.2,185.7 L427.3,211 L427.3,273.6" stroke="#1e1e1e" stroke-width="0.95" fill="none" stroke-dasharray="13,3,3,3" />
<path d="M221.5,159 L221.5,172" stroke="#1e1e1e" stroke-width="0.95" fill="none" stroke-dasharray="2.5,2" />
<path d="M254.9,163 L254.9,224" stroke="#1e1e1e" stroke-width="0.95" fill="none" stroke-dasharray="5,3" />
<path d="M163.9,199.8 L175.4,199.8 L175.4,246" stroke="#1e1e1e" stroke-width="0.95" fill="none" stroke-dasharray="6,3" />
<path d="M176.5,291 L176.5,330" stroke="#1e1e1e" stroke-width="0.95" fill="none" stroke-dasharray="5,3" />
<path d="M199,288 L390.8,313.2" stroke="#1e1e1e" stroke-width="0.95" fill="none" stroke-dasharray="13,3,3,3" />
<path d="M390.8,313.2 L382.6,322.5" stroke="#1e1e1e" stroke-width="0.95" fill="none" />
<path d="M255.5,326 L255.5,352" stroke="#1e1e1e" stroke-width="0.95" fill="none" stroke-dasharray="5,3" />
<path d="M0,421.8 L60,430 L60,440" stroke="#1e1e1e" stroke-width="0.95" fill="none" stroke-dasharray="13,3,3,3" />
<path d="M60,458 L60,466" stroke="#1e1e1e" stroke-width="0.95" fill="none" stroke-dasharray="3,2" />
<path d="M0,564.4 L75,573.2" stroke="#1e1e1e" stroke-width="0.95" fill="none" stroke-dasharray="7,4" />
<path d="M333.3,471 L333.3,506" stroke="#1e1e1e" stroke-width="0.95" fill="none" stroke-dasharray="3,2.2" />
<path d="M342.6,474.5 L342.6,506" stroke="#1e1e1e" stroke-width="0.95" fill="none" stroke-dasharray="3,2.2" /></g></svg></body></html>
